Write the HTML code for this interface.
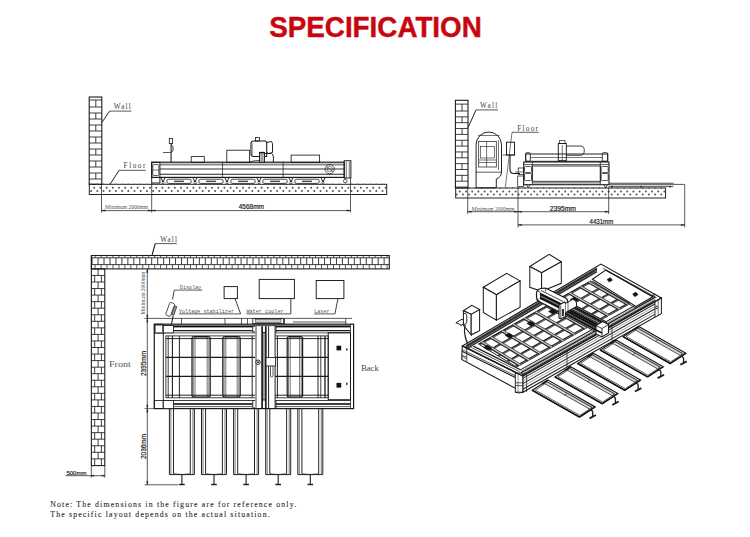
<!DOCTYPE html>
<html><head><meta charset="utf-8"><style>
html,body{margin:0;padding:0;background:#fff;width:750px;height:537px;overflow:hidden}
svg{display:block}
</style></head><body>
<svg width="750" height="537" viewBox="0 0 750 537" font-family="Liberation Serif" stroke-linecap="butt">
<rect width="750" height="537" fill="#fff"/>
<text x="269.20" y="37.40" font-family="Liberation Sans" font-size="30.3" font-weight="bold" fill="#c8060f" textLength="212.60" lengthAdjust="spacingAndGlyphs" stroke="#c8060f" stroke-width="0.45">SPECIFICATION</text>
<rect x="89.20" y="97.00" width="12.60" height="87.30" stroke="#1a1a1a" stroke-width="1.08" fill="none" rx="0" />
<line x1="89.20" y1="100.00" x2="101.80" y2="100.00" stroke="#1a1a1a" stroke-width="0.84" />
<line x1="89.20" y1="107.00" x2="101.80" y2="107.00" stroke="#1a1a1a" stroke-width="0.84" />
<line x1="95.80" y1="100.00" x2="95.80" y2="107.00" stroke="#1a1a1a" stroke-width="0.84" />
<line x1="89.20" y1="113.00" x2="101.80" y2="113.00" stroke="#1a1a1a" stroke-width="0.84" />
<line x1="89.20" y1="119.00" x2="101.80" y2="119.00" stroke="#1a1a1a" stroke-width="0.84" />
<line x1="95.80" y1="113.00" x2="95.80" y2="119.00" stroke="#1a1a1a" stroke-width="0.84" />
<line x1="89.20" y1="125.00" x2="101.80" y2="125.00" stroke="#1a1a1a" stroke-width="0.84" />
<line x1="89.20" y1="131.00" x2="101.80" y2="131.00" stroke="#1a1a1a" stroke-width="0.84" />
<line x1="95.80" y1="125.00" x2="95.80" y2="131.00" stroke="#1a1a1a" stroke-width="0.84" />
<line x1="89.20" y1="137.00" x2="101.80" y2="137.00" stroke="#1a1a1a" stroke-width="0.84" />
<line x1="89.20" y1="143.00" x2="101.80" y2="143.00" stroke="#1a1a1a" stroke-width="0.84" />
<line x1="95.80" y1="137.00" x2="95.80" y2="143.00" stroke="#1a1a1a" stroke-width="0.84" />
<line x1="89.20" y1="149.00" x2="101.80" y2="149.00" stroke="#1a1a1a" stroke-width="0.84" />
<line x1="89.20" y1="155.00" x2="101.80" y2="155.00" stroke="#1a1a1a" stroke-width="0.84" />
<line x1="95.80" y1="149.00" x2="95.80" y2="155.00" stroke="#1a1a1a" stroke-width="0.84" />
<line x1="89.20" y1="161.00" x2="101.80" y2="161.00" stroke="#1a1a1a" stroke-width="0.84" />
<line x1="89.20" y1="167.00" x2="101.80" y2="167.00" stroke="#1a1a1a" stroke-width="0.84" />
<line x1="95.80" y1="161.00" x2="95.80" y2="167.00" stroke="#1a1a1a" stroke-width="0.84" />
<line x1="89.20" y1="173.00" x2="101.80" y2="173.00" stroke="#1a1a1a" stroke-width="0.84" />
<line x1="89.20" y1="179.00" x2="101.80" y2="179.00" stroke="#1a1a1a" stroke-width="0.84" />
<line x1="95.80" y1="173.00" x2="95.80" y2="179.00" stroke="#1a1a1a" stroke-width="0.84" />
<rect x="89.30" y="184.30" width="297.40" height="10.20" stroke="#1a1a1a" stroke-width="0.96" fill="none" rx="0" />
<circle cx="94.20" cy="187.80" r="1.0" fill="#555"/>
<circle cx="100.40" cy="187.80" r="1.0" fill="#555"/>
<circle cx="106.60" cy="187.80" r="1.0" fill="#555"/>
<circle cx="112.80" cy="187.80" r="1.0" fill="#555"/>
<circle cx="119.00" cy="187.80" r="1.0" fill="#555"/>
<circle cx="125.20" cy="187.80" r="1.0" fill="#555"/>
<circle cx="131.40" cy="187.80" r="1.0" fill="#555"/>
<circle cx="137.60" cy="187.80" r="1.0" fill="#555"/>
<circle cx="143.80" cy="187.80" r="1.0" fill="#555"/>
<circle cx="150.00" cy="187.80" r="1.0" fill="#555"/>
<circle cx="156.20" cy="187.80" r="1.0" fill="#555"/>
<circle cx="162.40" cy="187.80" r="1.0" fill="#555"/>
<circle cx="168.60" cy="187.80" r="1.0" fill="#555"/>
<circle cx="174.80" cy="187.80" r="1.0" fill="#555"/>
<circle cx="181.00" cy="187.80" r="1.0" fill="#555"/>
<circle cx="187.20" cy="187.80" r="1.0" fill="#555"/>
<circle cx="193.40" cy="187.80" r="1.0" fill="#555"/>
<circle cx="199.60" cy="187.80" r="1.0" fill="#555"/>
<circle cx="205.80" cy="187.80" r="1.0" fill="#555"/>
<circle cx="212.00" cy="187.80" r="1.0" fill="#555"/>
<circle cx="218.20" cy="187.80" r="1.0" fill="#555"/>
<circle cx="224.40" cy="187.80" r="1.0" fill="#555"/>
<circle cx="230.60" cy="187.80" r="1.0" fill="#555"/>
<circle cx="236.80" cy="187.80" r="1.0" fill="#555"/>
<circle cx="243.00" cy="187.80" r="1.0" fill="#555"/>
<circle cx="249.20" cy="187.80" r="1.0" fill="#555"/>
<circle cx="255.40" cy="187.80" r="1.0" fill="#555"/>
<circle cx="261.60" cy="187.80" r="1.0" fill="#555"/>
<circle cx="267.80" cy="187.80" r="1.0" fill="#555"/>
<circle cx="274.00" cy="187.80" r="1.0" fill="#555"/>
<circle cx="280.20" cy="187.80" r="1.0" fill="#555"/>
<circle cx="286.40" cy="187.80" r="1.0" fill="#555"/>
<circle cx="292.60" cy="187.80" r="1.0" fill="#555"/>
<circle cx="298.80" cy="187.80" r="1.0" fill="#555"/>
<circle cx="305.00" cy="187.80" r="1.0" fill="#555"/>
<circle cx="311.20" cy="187.80" r="1.0" fill="#555"/>
<circle cx="317.40" cy="187.80" r="1.0" fill="#555"/>
<circle cx="323.60" cy="187.80" r="1.0" fill="#555"/>
<circle cx="329.80" cy="187.80" r="1.0" fill="#555"/>
<circle cx="336.00" cy="187.80" r="1.0" fill="#555"/>
<circle cx="342.20" cy="187.80" r="1.0" fill="#555"/>
<circle cx="348.40" cy="187.80" r="1.0" fill="#555"/>
<circle cx="354.60" cy="187.80" r="1.0" fill="#555"/>
<circle cx="360.80" cy="187.80" r="1.0" fill="#555"/>
<circle cx="367.00" cy="187.80" r="1.0" fill="#555"/>
<circle cx="373.20" cy="187.80" r="1.0" fill="#555"/>
<circle cx="379.40" cy="187.80" r="1.0" fill="#555"/>
<circle cx="385.60" cy="187.80" r="1.0" fill="#555"/>
<circle cx="91.10" cy="190.90" r="1.0" fill="#555"/>
<circle cx="97.30" cy="190.90" r="1.0" fill="#555"/>
<circle cx="103.50" cy="190.90" r="1.0" fill="#555"/>
<circle cx="109.70" cy="190.90" r="1.0" fill="#555"/>
<circle cx="115.90" cy="190.90" r="1.0" fill="#555"/>
<circle cx="122.10" cy="190.90" r="1.0" fill="#555"/>
<circle cx="128.30" cy="190.90" r="1.0" fill="#555"/>
<circle cx="134.50" cy="190.90" r="1.0" fill="#555"/>
<circle cx="140.70" cy="190.90" r="1.0" fill="#555"/>
<circle cx="146.90" cy="190.90" r="1.0" fill="#555"/>
<circle cx="153.10" cy="190.90" r="1.0" fill="#555"/>
<circle cx="159.30" cy="190.90" r="1.0" fill="#555"/>
<circle cx="165.50" cy="190.90" r="1.0" fill="#555"/>
<circle cx="171.70" cy="190.90" r="1.0" fill="#555"/>
<circle cx="177.90" cy="190.90" r="1.0" fill="#555"/>
<circle cx="184.10" cy="190.90" r="1.0" fill="#555"/>
<circle cx="190.30" cy="190.90" r="1.0" fill="#555"/>
<circle cx="196.50" cy="190.90" r="1.0" fill="#555"/>
<circle cx="202.70" cy="190.90" r="1.0" fill="#555"/>
<circle cx="208.90" cy="190.90" r="1.0" fill="#555"/>
<circle cx="215.10" cy="190.90" r="1.0" fill="#555"/>
<circle cx="221.30" cy="190.90" r="1.0" fill="#555"/>
<circle cx="227.50" cy="190.90" r="1.0" fill="#555"/>
<circle cx="233.70" cy="190.90" r="1.0" fill="#555"/>
<circle cx="239.90" cy="190.90" r="1.0" fill="#555"/>
<circle cx="246.10" cy="190.90" r="1.0" fill="#555"/>
<circle cx="252.30" cy="190.90" r="1.0" fill="#555"/>
<circle cx="258.50" cy="190.90" r="1.0" fill="#555"/>
<circle cx="264.70" cy="190.90" r="1.0" fill="#555"/>
<circle cx="270.90" cy="190.90" r="1.0" fill="#555"/>
<circle cx="277.10" cy="190.90" r="1.0" fill="#555"/>
<circle cx="283.30" cy="190.90" r="1.0" fill="#555"/>
<circle cx="289.50" cy="190.90" r="1.0" fill="#555"/>
<circle cx="295.70" cy="190.90" r="1.0" fill="#555"/>
<circle cx="301.90" cy="190.90" r="1.0" fill="#555"/>
<circle cx="308.10" cy="190.90" r="1.0" fill="#555"/>
<circle cx="314.30" cy="190.90" r="1.0" fill="#555"/>
<circle cx="320.50" cy="190.90" r="1.0" fill="#555"/>
<circle cx="326.70" cy="190.90" r="1.0" fill="#555"/>
<circle cx="332.90" cy="190.90" r="1.0" fill="#555"/>
<circle cx="339.10" cy="190.90" r="1.0" fill="#555"/>
<circle cx="345.30" cy="190.90" r="1.0" fill="#555"/>
<circle cx="351.50" cy="190.90" r="1.0" fill="#555"/>
<circle cx="357.70" cy="190.90" r="1.0" fill="#555"/>
<circle cx="363.90" cy="190.90" r="1.0" fill="#555"/>
<circle cx="370.10" cy="190.90" r="1.0" fill="#555"/>
<circle cx="376.30" cy="190.90" r="1.0" fill="#555"/>
<circle cx="382.50" cy="190.90" r="1.0" fill="#555"/>
<circle cx="91.10" cy="184.30" r="0.75" fill="#555"/>
<circle cx="97.30" cy="184.30" r="0.75" fill="#555"/>
<circle cx="103.50" cy="184.30" r="0.75" fill="#555"/>
<circle cx="109.70" cy="184.30" r="0.75" fill="#555"/>
<circle cx="115.90" cy="184.30" r="0.75" fill="#555"/>
<circle cx="122.10" cy="184.30" r="0.75" fill="#555"/>
<circle cx="128.30" cy="184.30" r="0.75" fill="#555"/>
<circle cx="134.50" cy="184.30" r="0.75" fill="#555"/>
<circle cx="140.70" cy="184.30" r="0.75" fill="#555"/>
<circle cx="146.90" cy="184.30" r="0.75" fill="#555"/>
<circle cx="153.10" cy="184.30" r="0.75" fill="#555"/>
<circle cx="159.30" cy="184.30" r="0.75" fill="#555"/>
<circle cx="165.50" cy="184.30" r="0.75" fill="#555"/>
<circle cx="171.70" cy="184.30" r="0.75" fill="#555"/>
<circle cx="177.90" cy="184.30" r="0.75" fill="#555"/>
<circle cx="184.10" cy="184.30" r="0.75" fill="#555"/>
<circle cx="190.30" cy="184.30" r="0.75" fill="#555"/>
<circle cx="196.50" cy="184.30" r="0.75" fill="#555"/>
<circle cx="202.70" cy="184.30" r="0.75" fill="#555"/>
<circle cx="208.90" cy="184.30" r="0.75" fill="#555"/>
<circle cx="215.10" cy="184.30" r="0.75" fill="#555"/>
<circle cx="221.30" cy="184.30" r="0.75" fill="#555"/>
<circle cx="227.50" cy="184.30" r="0.75" fill="#555"/>
<circle cx="233.70" cy="184.30" r="0.75" fill="#555"/>
<circle cx="239.90" cy="184.30" r="0.75" fill="#555"/>
<circle cx="246.10" cy="184.30" r="0.75" fill="#555"/>
<circle cx="252.30" cy="184.30" r="0.75" fill="#555"/>
<circle cx="258.50" cy="184.30" r="0.75" fill="#555"/>
<circle cx="264.70" cy="184.30" r="0.75" fill="#555"/>
<circle cx="270.90" cy="184.30" r="0.75" fill="#555"/>
<circle cx="277.10" cy="184.30" r="0.75" fill="#555"/>
<circle cx="283.30" cy="184.30" r="0.75" fill="#555"/>
<circle cx="289.50" cy="184.30" r="0.75" fill="#555"/>
<circle cx="295.70" cy="184.30" r="0.75" fill="#555"/>
<circle cx="301.90" cy="184.30" r="0.75" fill="#555"/>
<circle cx="308.10" cy="184.30" r="0.75" fill="#555"/>
<circle cx="314.30" cy="184.30" r="0.75" fill="#555"/>
<circle cx="320.50" cy="184.30" r="0.75" fill="#555"/>
<circle cx="326.70" cy="184.30" r="0.75" fill="#555"/>
<circle cx="332.90" cy="184.30" r="0.75" fill="#555"/>
<circle cx="339.10" cy="184.30" r="0.75" fill="#555"/>
<circle cx="345.30" cy="184.30" r="0.75" fill="#555"/>
<circle cx="351.50" cy="184.30" r="0.75" fill="#555"/>
<circle cx="357.70" cy="184.30" r="0.75" fill="#555"/>
<circle cx="363.90" cy="184.30" r="0.75" fill="#555"/>
<circle cx="370.10" cy="184.30" r="0.75" fill="#555"/>
<circle cx="376.30" cy="184.30" r="0.75" fill="#555"/>
<circle cx="382.50" cy="184.30" r="0.75" fill="#555"/>
<text x="113.80" y="109.00" font-family="Liberation Serif" font-size="7.2" font-weight="normal" fill="#444" textLength="17.00" lengthAdjust="spacing" >Wall</text>
<line x1="109.60" y1="111.10" x2="131.40" y2="111.10" stroke="#1a1a1a" stroke-width="0.72" />
<line x1="109.60" y1="111.10" x2="101.80" y2="122.60" stroke="#1a1a1a" stroke-width="0.96" />
<text x="123.60" y="168.30" font-family="Liberation Serif" font-size="7.2" font-weight="normal" fill="#444" textLength="21.70" lengthAdjust="spacing" >Floor</text>
<line x1="119.10" y1="170.30" x2="145.80" y2="170.30" stroke="#1a1a1a" stroke-width="0.72" />
<line x1="119.10" y1="170.30" x2="110.00" y2="184.30" stroke="#1a1a1a" stroke-width="0.96" />
<rect x="151.70" y="162.20" width="192.50" height="15.20" stroke="#1a1a1a" stroke-width="1.20" fill="none" rx="0" />
<line x1="159.90" y1="164.20" x2="344.20" y2="164.20" stroke="#333" stroke-width="0.84" />
<line x1="159.90" y1="165.40" x2="344.20" y2="165.40" stroke="#777" stroke-width="0.48" />
<line x1="159.90" y1="169.00" x2="344.20" y2="169.00" stroke="#333" stroke-width="1.08" />
<line x1="159.90" y1="174.30" x2="344.20" y2="174.30" stroke="#222" stroke-width="1.08" />
<line x1="222.50" y1="162.20" x2="222.50" y2="177.40" stroke="#1a1a1a" stroke-width="0.72" />
<line x1="283.10" y1="162.20" x2="283.10" y2="177.40" stroke="#1a1a1a" stroke-width="0.72" />
<rect x="151.70" y="162.40" width="8.20" height="20.60" stroke="#1a1a1a" stroke-width="0.96" fill="none" rx="0" />
<rect x="152.80" y="164.60" width="6.00" height="10.90" stroke="#1a1a1a" stroke-width="0.72" fill="none" rx="1" />
<line x1="152.80" y1="170.00" x2="158.80" y2="170.00" stroke="#1a1a1a" stroke-width="0.60" />
<rect x="344.20" y="160.70" width="6.70" height="17.30" stroke="#1a1a1a" stroke-width="0.96" fill="none" rx="0" />
<line x1="346.30" y1="161.50" x2="346.30" y2="178.00" stroke="#1a1a1a" stroke-width="0.60" />
<line x1="349.30" y1="161.50" x2="349.30" y2="178.00" stroke="#1a1a1a" stroke-width="0.60" />
<circle cx="329.7" cy="169.1" r="4.6" stroke="#1a1a1a" stroke-width="0.7" fill="none"/>
<circle cx="329.7" cy="169.1" r="2.6" stroke="#1a1a1a" stroke-width="0.5" fill="none"/>
<line x1="326.50" y1="166.50" x2="332.80" y2="171.80" stroke="#1a1a1a" stroke-width="0.60" />
<path d="M160.80,177.4 L163.00,182.0 L165.20,177.4" stroke="#1a1a1a" stroke-width="0.96" fill="none" />
<circle cx="163" cy="182.6" r="1.2" stroke="#1a1a1a" stroke-width="0.6" fill="none"/>
<rect x="166.7" y="179.2" width="24.6" height="4.2" rx="2.1" stroke="#1a1a1a" stroke-width="0.8" fill="none"/>
<line x1="174.00" y1="181.30" x2="184.00" y2="181.30" stroke="#333" stroke-width="1.20" />
<path d="M192.80,177.4 L195.00,182.0 L197.20,177.4" stroke="#1a1a1a" stroke-width="0.96" fill="none" />
<circle cx="195" cy="182.6" r="1.2" stroke="#1a1a1a" stroke-width="0.6" fill="none"/>
<rect x="198.7" y="179.2" width="24.6" height="4.2" rx="2.1" stroke="#1a1a1a" stroke-width="0.8" fill="none"/>
<line x1="206.00" y1="181.30" x2="216.00" y2="181.30" stroke="#333" stroke-width="1.20" />
<path d="M224.80,177.4 L227.00,182.0 L229.20,177.4" stroke="#1a1a1a" stroke-width="0.96" fill="none" />
<circle cx="227" cy="182.6" r="1.2" stroke="#1a1a1a" stroke-width="0.6" fill="none"/>
<rect x="230.7" y="179.2" width="24.6" height="4.2" rx="2.1" stroke="#1a1a1a" stroke-width="0.8" fill="none"/>
<line x1="238.00" y1="181.30" x2="248.00" y2="181.30" stroke="#333" stroke-width="1.20" />
<path d="M256.80,177.4 L259.00,182.0 L261.20,177.4" stroke="#1a1a1a" stroke-width="0.96" fill="none" />
<circle cx="259" cy="182.6" r="1.2" stroke="#1a1a1a" stroke-width="0.6" fill="none"/>
<rect x="262.7" y="179.2" width="24.6" height="4.2" rx="2.1" stroke="#1a1a1a" stroke-width="0.8" fill="none"/>
<line x1="270.00" y1="181.30" x2="280.00" y2="181.30" stroke="#333" stroke-width="1.20" />
<path d="M288.80,177.4 L291.00,182.0 L293.20,177.4" stroke="#1a1a1a" stroke-width="0.96" fill="none" />
<circle cx="291" cy="182.6" r="1.2" stroke="#1a1a1a" stroke-width="0.6" fill="none"/>
<rect x="294.7" y="179.2" width="24.6" height="4.2" rx="2.1" stroke="#1a1a1a" stroke-width="0.8" fill="none"/>
<line x1="302.00" y1="181.30" x2="312.00" y2="181.30" stroke="#333" stroke-width="1.20" />
<path d="M320.80,177.4 L323.00,182.0 L325.20,177.4" stroke="#1a1a1a" stroke-width="0.96" fill="none" />
<circle cx="323" cy="182.6" r="1.2" stroke="#1a1a1a" stroke-width="0.6" fill="none"/>
<circle cx="345.3" cy="181.0" r="1.8" stroke="#1a1a1a" stroke-width="0.7" fill="none"/>
<line x1="345.30" y1="178.00" x2="345.30" y2="179.20" stroke="#1a1a1a" stroke-width="0.84" />
<rect x="191.20" y="156.60" width="13.10" height="5.80" stroke="#1a1a1a" stroke-width="0.84" fill="none" rx="0" />
<rect x="226.80" y="150.20" width="22.80" height="12.20" stroke="#1a1a1a" stroke-width="0.84" fill="none" rx="0" />
<rect x="291.10" y="155.10" width="28.50" height="7.30" stroke="#1a1a1a" stroke-width="0.84" fill="none" rx="0" />
<line x1="171.10" y1="143.50" x2="171.10" y2="162.40" stroke="#1a1a1a" stroke-width="1.08" />
<rect x="169.30" y="138.60" width="3.30" height="4.90" stroke="#1a1a1a" stroke-width="0.84" fill="none" rx="0" />
<path d="M171.3,144.5 Q173.5,146 173.2,150 Q172.5,152 171.2,152" stroke="#1a1a1a" stroke-width="0.84" fill="none" />
<line x1="162.90" y1="152.50" x2="171.10" y2="152.50" stroke="#1a1a1a" stroke-width="0.72" />
<path d="M251,143.5 Q251,141 253.5,141 L265.5,141 L266.7,142.5 L266.7,156.5 L253.5,156.5 Q251,156.5 251,154 Z" stroke="#1a1a1a" stroke-width="1.08" fill="#fff" />
<line x1="252.30" y1="143.00" x2="252.30" y2="155.00" stroke="#666" stroke-width="0.72" />
<rect x="255.50" y="137.60" width="4.00" height="3.40" stroke="#1a1a1a" stroke-width="0.84" fill="none" rx="0" />
<path d="M266.7,142.5 L271.5,141.5 L272.5,143.5 L272.5,152.5 L268.5,153.5 L266.7,152.5" stroke="#1a1a1a" stroke-width="0.96" fill="none" />
<rect x="259.60" y="152.50" width="4.80" height="9.70" stroke="#1a1a1a" stroke-width="1.08" fill="#fff" rx="0" />
<line x1="261.20" y1="153.50" x2="261.20" y2="161.50" stroke="#1a1a1a" stroke-width="0.60" />
<line x1="262.80" y1="153.50" x2="262.80" y2="161.50" stroke="#1a1a1a" stroke-width="0.60" />
<line x1="259.60" y1="152.60" x2="264.40" y2="152.60" stroke="#111" stroke-width="1.44" />
<path d="M264.4,153.5 L271.5,153.5 Q273.4,154.5 273.4,157 L273.4,162.2" stroke="#1a1a1a" stroke-width="0.96" fill="none" />
<path d="M249,162.2 Q253,160.4 259.6,160.4" stroke="#1a1a1a" stroke-width="0.72" fill="none" />
<line x1="101.50" y1="184.30" x2="101.50" y2="212.50" stroke="#1a1a1a" stroke-width="0.72" />
<line x1="151.70" y1="183.00" x2="151.70" y2="212.50" stroke="#1a1a1a" stroke-width="0.72" />
<line x1="350.50" y1="178.00" x2="350.50" y2="212.50" stroke="#1a1a1a" stroke-width="0.72" />
<line x1="101.50" y1="210.60" x2="151.70" y2="210.60" stroke="#1a1a1a" stroke-width="0.72" />
<path d="M105.10,209.85 L101.50,210.60 L105.10,211.35 Z" stroke="#1a1a1a" stroke-width="0.24" fill="#1a1a1a" />
<path d="M148.10,209.85 L151.70,210.60 L148.10,211.35 Z" stroke="#1a1a1a" stroke-width="0.24" fill="#1a1a1a" />
<line x1="151.70" y1="210.60" x2="350.50" y2="210.60" stroke="#1a1a1a" stroke-width="0.72" />
<path d="M155.30,209.85 L151.70,210.60 L155.30,211.35 Z" stroke="#1a1a1a" stroke-width="0.24" fill="#1a1a1a" />
<path d="M346.90,209.85 L350.50,210.60 L346.90,211.35 Z" stroke="#1a1a1a" stroke-width="0.24" fill="#1a1a1a" />
<text x="105.00" y="208.60" font-family="Liberation Serif" font-size="5.4" font-weight="normal" fill="#555" textLength="43.00" lengthAdjust="spacingAndGlyphs" >Minimum 2000mm</text>
<text x="238.70" y="209.00" font-family="Liberation Sans" font-size="6.4" font-weight="normal" fill="#222" textLength="25.30" lengthAdjust="spacingAndGlyphs" stroke="#222" stroke-width="0.18">4568mm</text>
<rect x="455.40" y="100.30" width="12.60" height="87.70" stroke="#1a1a1a" stroke-width="1.08" fill="none" rx="0" />
<line x1="455.40" y1="104.10" x2="468.00" y2="104.10" stroke="#1a1a1a" stroke-width="0.84" />
<line x1="455.40" y1="111.00" x2="468.00" y2="111.00" stroke="#1a1a1a" stroke-width="0.84" />
<line x1="462.00" y1="104.10" x2="462.00" y2="111.00" stroke="#1a1a1a" stroke-width="0.84" />
<line x1="455.40" y1="116.85" x2="468.00" y2="116.85" stroke="#1a1a1a" stroke-width="0.84" />
<line x1="455.40" y1="122.70" x2="468.00" y2="122.70" stroke="#1a1a1a" stroke-width="0.84" />
<line x1="462.00" y1="116.85" x2="462.00" y2="122.70" stroke="#1a1a1a" stroke-width="0.84" />
<line x1="455.40" y1="128.55" x2="468.00" y2="128.55" stroke="#1a1a1a" stroke-width="0.84" />
<line x1="455.40" y1="134.40" x2="468.00" y2="134.40" stroke="#1a1a1a" stroke-width="0.84" />
<line x1="462.00" y1="128.55" x2="462.00" y2="134.40" stroke="#1a1a1a" stroke-width="0.84" />
<line x1="455.40" y1="140.25" x2="468.00" y2="140.25" stroke="#1a1a1a" stroke-width="0.84" />
<line x1="455.40" y1="146.10" x2="468.00" y2="146.10" stroke="#1a1a1a" stroke-width="0.84" />
<line x1="462.00" y1="140.25" x2="462.00" y2="146.10" stroke="#1a1a1a" stroke-width="0.84" />
<line x1="455.40" y1="151.95" x2="468.00" y2="151.95" stroke="#1a1a1a" stroke-width="0.84" />
<line x1="455.40" y1="157.80" x2="468.00" y2="157.80" stroke="#1a1a1a" stroke-width="0.84" />
<line x1="462.00" y1="151.95" x2="462.00" y2="157.80" stroke="#1a1a1a" stroke-width="0.84" />
<line x1="455.40" y1="163.65" x2="468.00" y2="163.65" stroke="#1a1a1a" stroke-width="0.84" />
<line x1="455.40" y1="169.50" x2="468.00" y2="169.50" stroke="#1a1a1a" stroke-width="0.84" />
<line x1="462.00" y1="163.65" x2="462.00" y2="169.50" stroke="#1a1a1a" stroke-width="0.84" />
<line x1="455.40" y1="175.35" x2="468.00" y2="175.35" stroke="#1a1a1a" stroke-width="0.84" />
<line x1="455.40" y1="181.20" x2="468.00" y2="181.20" stroke="#1a1a1a" stroke-width="0.84" />
<line x1="462.00" y1="175.35" x2="462.00" y2="181.20" stroke="#1a1a1a" stroke-width="0.84" />
<line x1="455.40" y1="187.05" x2="468.00" y2="187.05" stroke="#1a1a1a" stroke-width="0.84" />
<line x1="462.00" y1="187.05" x2="462.00" y2="188.00" stroke="#1a1a1a" stroke-width="0.84" />
<rect x="455.70" y="188.00" width="209.90" height="10.00" stroke="#1a1a1a" stroke-width="0.96" fill="none" rx="0" />
<circle cx="459.80" cy="191.50" r="1.0" fill="#555"/>
<circle cx="466.00" cy="191.50" r="1.0" fill="#555"/>
<circle cx="472.20" cy="191.50" r="1.0" fill="#555"/>
<circle cx="478.40" cy="191.50" r="1.0" fill="#555"/>
<circle cx="484.60" cy="191.50" r="1.0" fill="#555"/>
<circle cx="490.80" cy="191.50" r="1.0" fill="#555"/>
<circle cx="497.00" cy="191.50" r="1.0" fill="#555"/>
<circle cx="503.20" cy="191.50" r="1.0" fill="#555"/>
<circle cx="509.40" cy="191.50" r="1.0" fill="#555"/>
<circle cx="515.60" cy="191.50" r="1.0" fill="#555"/>
<circle cx="521.80" cy="191.50" r="1.0" fill="#555"/>
<circle cx="528.00" cy="191.50" r="1.0" fill="#555"/>
<circle cx="534.20" cy="191.50" r="1.0" fill="#555"/>
<circle cx="540.40" cy="191.50" r="1.0" fill="#555"/>
<circle cx="546.60" cy="191.50" r="1.0" fill="#555"/>
<circle cx="552.80" cy="191.50" r="1.0" fill="#555"/>
<circle cx="559.00" cy="191.50" r="1.0" fill="#555"/>
<circle cx="565.20" cy="191.50" r="1.0" fill="#555"/>
<circle cx="571.40" cy="191.50" r="1.0" fill="#555"/>
<circle cx="577.60" cy="191.50" r="1.0" fill="#555"/>
<circle cx="583.80" cy="191.50" r="1.0" fill="#555"/>
<circle cx="590.00" cy="191.50" r="1.0" fill="#555"/>
<circle cx="596.20" cy="191.50" r="1.0" fill="#555"/>
<circle cx="602.40" cy="191.50" r="1.0" fill="#555"/>
<circle cx="608.60" cy="191.50" r="1.0" fill="#555"/>
<circle cx="614.80" cy="191.50" r="1.0" fill="#555"/>
<circle cx="621.00" cy="191.50" r="1.0" fill="#555"/>
<circle cx="627.20" cy="191.50" r="1.0" fill="#555"/>
<circle cx="633.40" cy="191.50" r="1.0" fill="#555"/>
<circle cx="639.60" cy="191.50" r="1.0" fill="#555"/>
<circle cx="645.80" cy="191.50" r="1.0" fill="#555"/>
<circle cx="652.00" cy="191.50" r="1.0" fill="#555"/>
<circle cx="658.20" cy="191.50" r="1.0" fill="#555"/>
<circle cx="664.40" cy="191.50" r="1.0" fill="#555"/>
<circle cx="456.70" cy="194.60" r="1.0" fill="#555"/>
<circle cx="462.90" cy="194.60" r="1.0" fill="#555"/>
<circle cx="469.10" cy="194.60" r="1.0" fill="#555"/>
<circle cx="475.30" cy="194.60" r="1.0" fill="#555"/>
<circle cx="481.50" cy="194.60" r="1.0" fill="#555"/>
<circle cx="487.70" cy="194.60" r="1.0" fill="#555"/>
<circle cx="493.90" cy="194.60" r="1.0" fill="#555"/>
<circle cx="500.10" cy="194.60" r="1.0" fill="#555"/>
<circle cx="506.30" cy="194.60" r="1.0" fill="#555"/>
<circle cx="512.50" cy="194.60" r="1.0" fill="#555"/>
<circle cx="518.70" cy="194.60" r="1.0" fill="#555"/>
<circle cx="524.90" cy="194.60" r="1.0" fill="#555"/>
<circle cx="531.10" cy="194.60" r="1.0" fill="#555"/>
<circle cx="537.30" cy="194.60" r="1.0" fill="#555"/>
<circle cx="543.50" cy="194.60" r="1.0" fill="#555"/>
<circle cx="549.70" cy="194.60" r="1.0" fill="#555"/>
<circle cx="555.90" cy="194.60" r="1.0" fill="#555"/>
<circle cx="562.10" cy="194.60" r="1.0" fill="#555"/>
<circle cx="568.30" cy="194.60" r="1.0" fill="#555"/>
<circle cx="574.50" cy="194.60" r="1.0" fill="#555"/>
<circle cx="580.70" cy="194.60" r="1.0" fill="#555"/>
<circle cx="586.90" cy="194.60" r="1.0" fill="#555"/>
<circle cx="593.10" cy="194.60" r="1.0" fill="#555"/>
<circle cx="599.30" cy="194.60" r="1.0" fill="#555"/>
<circle cx="605.50" cy="194.60" r="1.0" fill="#555"/>
<circle cx="611.70" cy="194.60" r="1.0" fill="#555"/>
<circle cx="617.90" cy="194.60" r="1.0" fill="#555"/>
<circle cx="624.10" cy="194.60" r="1.0" fill="#555"/>
<circle cx="630.30" cy="194.60" r="1.0" fill="#555"/>
<circle cx="636.50" cy="194.60" r="1.0" fill="#555"/>
<circle cx="642.70" cy="194.60" r="1.0" fill="#555"/>
<circle cx="648.90" cy="194.60" r="1.0" fill="#555"/>
<circle cx="655.10" cy="194.60" r="1.0" fill="#555"/>
<circle cx="661.30" cy="194.60" r="1.0" fill="#555"/>
<circle cx="456.70" cy="188.00" r="0.75" fill="#555"/>
<circle cx="462.90" cy="188.00" r="0.75" fill="#555"/>
<circle cx="469.10" cy="188.00" r="0.75" fill="#555"/>
<circle cx="475.30" cy="188.00" r="0.75" fill="#555"/>
<circle cx="481.50" cy="188.00" r="0.75" fill="#555"/>
<circle cx="487.70" cy="188.00" r="0.75" fill="#555"/>
<circle cx="493.90" cy="188.00" r="0.75" fill="#555"/>
<circle cx="500.10" cy="188.00" r="0.75" fill="#555"/>
<circle cx="506.30" cy="188.00" r="0.75" fill="#555"/>
<circle cx="512.50" cy="188.00" r="0.75" fill="#555"/>
<circle cx="518.70" cy="188.00" r="0.75" fill="#555"/>
<circle cx="524.90" cy="188.00" r="0.75" fill="#555"/>
<circle cx="531.10" cy="188.00" r="0.75" fill="#555"/>
<circle cx="537.30" cy="188.00" r="0.75" fill="#555"/>
<circle cx="543.50" cy="188.00" r="0.75" fill="#555"/>
<circle cx="549.70" cy="188.00" r="0.75" fill="#555"/>
<circle cx="555.90" cy="188.00" r="0.75" fill="#555"/>
<circle cx="562.10" cy="188.00" r="0.75" fill="#555"/>
<circle cx="568.30" cy="188.00" r="0.75" fill="#555"/>
<circle cx="574.50" cy="188.00" r="0.75" fill="#555"/>
<circle cx="580.70" cy="188.00" r="0.75" fill="#555"/>
<circle cx="586.90" cy="188.00" r="0.75" fill="#555"/>
<circle cx="593.10" cy="188.00" r="0.75" fill="#555"/>
<circle cx="599.30" cy="188.00" r="0.75" fill="#555"/>
<circle cx="605.50" cy="188.00" r="0.75" fill="#555"/>
<circle cx="611.70" cy="188.00" r="0.75" fill="#555"/>
<circle cx="617.90" cy="188.00" r="0.75" fill="#555"/>
<circle cx="624.10" cy="188.00" r="0.75" fill="#555"/>
<circle cx="630.30" cy="188.00" r="0.75" fill="#555"/>
<circle cx="636.50" cy="188.00" r="0.75" fill="#555"/>
<circle cx="642.70" cy="188.00" r="0.75" fill="#555"/>
<circle cx="648.90" cy="188.00" r="0.75" fill="#555"/>
<circle cx="655.10" cy="188.00" r="0.75" fill="#555"/>
<circle cx="661.30" cy="188.00" r="0.75" fill="#555"/>
<text x="480.00" y="108.30" font-family="Liberation Serif" font-size="7.2" font-weight="normal" fill="#444" textLength="17.30" lengthAdjust="spacing" >Wall</text>
<line x1="476.00" y1="109.90" x2="498.00" y2="109.90" stroke="#1a1a1a" stroke-width="0.72" />
<line x1="476.00" y1="109.90" x2="468.00" y2="127.70" stroke="#1a1a1a" stroke-width="0.96" />
<text x="517.30" y="130.70" font-family="Liberation Serif" font-size="7.2" font-weight="normal" fill="#444" textLength="20.70" lengthAdjust="spacing" >Floor</text>
<line x1="512.00" y1="132.30" x2="538.70" y2="132.30" stroke="#1a1a1a" stroke-width="0.72" />
<line x1="512.00" y1="132.30" x2="505.40" y2="187.00" stroke="#1a1a1a" stroke-width="0.60" />
<path d="M476.1,187.8 L476.1,144.7 A12.7,12.7 0 0 1 501.5,144.7 L501.5,172 Q501.5,177 496.3,179 L496.3,187.8 Z" stroke="#1a1a1a" stroke-width="0.96" fill="none" />
<line x1="476.10" y1="172.20" x2="501.50" y2="172.20" stroke="#1a1a1a" stroke-width="0.72" />
<rect x="478.70" y="141.50" width="17.60" height="25.50" stroke="#1a1a1a" stroke-width="0.72" fill="none" rx="0" />
<rect x="480.50" y="146.50" width="14.00" height="11.50" stroke="#1a1a1a" stroke-width="0.60" fill="none" rx="0" />
<line x1="486.60" y1="141.50" x2="486.60" y2="167.00" stroke="#1a1a1a" stroke-width="0.60" />
<line x1="478.70" y1="160.00" x2="496.30" y2="160.00" stroke="#1a1a1a" stroke-width="0.60" />
<line x1="478.70" y1="162.50" x2="496.30" y2="162.50" stroke="#1a1a1a" stroke-width="0.60" />
<line x1="498.50" y1="140.00" x2="498.50" y2="170.00" stroke="#1a1a1a" stroke-width="0.60" />
<path d="M478,135.5 L499.5,135.5" stroke="#1a1a1a" stroke-width="0.60" fill="none" />
<rect x="506.50" y="142.20" width="8.00" height="12.80" stroke="#1a1a1a" stroke-width="0.96" fill="none" rx="0" />
<line x1="502.80" y1="155.00" x2="515.20" y2="155.00" stroke="#1a1a1a" stroke-width="0.72" />
<path d="M510,155 L510,169.5 Q510,173.5 514,173.5 L520,173.5" stroke="#1a1a1a" stroke-width="1.08" fill="none" />
<rect x="525.70" y="154.00" width="82.00" height="7.30" stroke="#1a1a1a" stroke-width="0.96" fill="none" rx="0" />
<line x1="530.30" y1="157.50" x2="602.30" y2="157.50" stroke="#1a1a1a" stroke-width="0.60" />
<rect x="525.70" y="152.70" width="4.60" height="8.60" stroke="#1a1a1a" stroke-width="0.84" fill="none" rx="1" />
<rect x="602.30" y="152.70" width="5.40" height="8.60" stroke="#1a1a1a" stroke-width="0.84" fill="none" rx="1" />
<rect x="558.30" y="143.50" width="8.00" height="17.20" stroke="#1a1a1a" stroke-width="0.96" fill="none" rx="0" />
<rect x="559.50" y="140.70" width="5.50" height="2.80" stroke="#1a1a1a" stroke-width="0.72" fill="none" rx="0" />
<line x1="562.30" y1="145.00" x2="562.30" y2="160.00" stroke="#1a1a1a" stroke-width="0.60" />
<path d="M566.3,146 L580.5,146 Q584.3,146 584.3,150.5 Q584.3,155.3 580.5,155.3 L566.3,155.3" stroke="#1a1a1a" stroke-width="0.84" fill="none" />
<rect x="523.70" y="162.00" width="85.30" height="22.70" stroke="#1a1a1a" stroke-width="1.08" fill="none" rx="0" />
<line x1="523.70" y1="164.60" x2="609.00" y2="164.60" stroke="#1a1a1a" stroke-width="0.72" />
<rect x="532.30" y="166.00" width="68.00" height="15.30" stroke="#1a1a1a" stroke-width="0.84" fill="none" rx="0" />
<line x1="532.30" y1="182.90" x2="600.30" y2="182.90" stroke="#1a1a1a" stroke-width="0.72" />
<line x1="532.30" y1="162.00" x2="532.30" y2="184.70" stroke="#1a1a1a" stroke-width="0.72" />
<line x1="600.30" y1="162.00" x2="600.30" y2="184.70" stroke="#1a1a1a" stroke-width="0.72" />
<rect x="524.50" y="166.50" width="7.00" height="6.00" stroke="#1a1a1a" stroke-width="0.72" fill="none" rx="1" />
<rect x="524.50" y="173.50" width="7.00" height="7.00" stroke="#1a1a1a" stroke-width="0.72" fill="none" rx="1" />
<rect x="601.20" y="166.50" width="7.00" height="6.00" stroke="#1a1a1a" stroke-width="0.72" fill="none" rx="1" />
<rect x="601.20" y="173.50" width="7.00" height="7.00" stroke="#1a1a1a" stroke-width="0.72" fill="none" rx="1" />
<path d="M526.3,184.7 L528.3,187.5 L530.3,184.7" stroke="#1a1a1a" stroke-width="0.84" fill="none" />
<path d="M603.7,184.7 L605.7,187.5 L607.7,184.7" stroke="#1a1a1a" stroke-width="0.84" fill="none" />
<rect x="518.20" y="168.00" width="5.50" height="6.50" stroke="#1a1a1a" stroke-width="0.72" fill="none" rx="0" />
<rect x="517.70" y="176.00" width="6.00" height="10.50" stroke="#1a1a1a" stroke-width="0.72" fill="none" rx="0" />
<line x1="515.00" y1="172.00" x2="523.00" y2="172.00" stroke="#1a1a1a" stroke-width="0.60" />
<rect x="609.30" y="183.00" width="64.00" height="2.00" stroke="#1a1a1a" stroke-width="0.36" fill="#8a8a8a" rx="0" />
<line x1="609.30" y1="186.60" x2="673.30" y2="186.60" stroke="#1a1a1a" stroke-width="0.72" />
<circle cx="612.0" cy="186.6" r="0.9" fill="#222"/>
<circle cx="641.0" cy="186.6" r="0.9" fill="#222"/>
<circle cx="670.0" cy="186.6" r="0.9" fill="#222"/>
<line x1="673.30" y1="184.40" x2="684.70" y2="184.40" stroke="#1a1a1a" stroke-width="0.72" />
<line x1="467.70" y1="188.00" x2="467.70" y2="214.00" stroke="#1a1a1a" stroke-width="0.72" />
<line x1="518.00" y1="187.00" x2="518.00" y2="227.60" stroke="#1a1a1a" stroke-width="0.72" />
<line x1="608.70" y1="186.60" x2="608.70" y2="214.00" stroke="#1a1a1a" stroke-width="0.72" />
<line x1="684.70" y1="184.40" x2="684.70" y2="227.30" stroke="#1a1a1a" stroke-width="0.72" />
<line x1="467.70" y1="211.70" x2="518.00" y2="211.70" stroke="#1a1a1a" stroke-width="0.72" />
<path d="M471.30,210.95 L467.70,211.70 L471.30,212.45 Z" stroke="#1a1a1a" stroke-width="0.24" fill="#1a1a1a" />
<path d="M514.40,210.95 L518.00,211.70 L514.40,212.45 Z" stroke="#1a1a1a" stroke-width="0.24" fill="#1a1a1a" />
<line x1="518.00" y1="211.70" x2="608.70" y2="211.70" stroke="#1a1a1a" stroke-width="0.72" />
<path d="M521.60,210.95 L518.00,211.70 L521.60,212.45 Z" stroke="#1a1a1a" stroke-width="0.24" fill="#1a1a1a" />
<path d="M605.10,210.95 L608.70,211.70 L605.10,212.45 Z" stroke="#1a1a1a" stroke-width="0.24" fill="#1a1a1a" />
<line x1="518.00" y1="224.90" x2="684.70" y2="224.90" stroke="#1a1a1a" stroke-width="0.72" />
<path d="M521.60,224.15 L518.00,224.90 L521.60,225.65 Z" stroke="#1a1a1a" stroke-width="0.24" fill="#1a1a1a" />
<path d="M681.10,224.15 L684.70,224.90 L681.10,225.65 Z" stroke="#1a1a1a" stroke-width="0.24" fill="#1a1a1a" />
<text x="471.50" y="210.60" font-family="Liberation Serif" font-size="5.4" font-weight="normal" fill="#555" textLength="43.00" lengthAdjust="spacingAndGlyphs" >Minimum 2000mm</text>
<text x="549.80" y="210.80" font-family="Liberation Sans" font-size="6.4" font-weight="normal" fill="#222" textLength="26.10" lengthAdjust="spacingAndGlyphs" stroke="#222" stroke-width="0.18">2395mm</text>
<text x="589.50" y="224.20" font-family="Liberation Sans" font-size="6.4" font-weight="normal" fill="#222" textLength="23.80" lengthAdjust="spacingAndGlyphs" stroke="#222" stroke-width="0.18">4431mm</text>
<rect x="91.40" y="255.50" width="297.90" height="13.40" stroke="#1a1a1a" stroke-width="1.08" fill="none" rx="0" />
<line x1="91.40" y1="257.80" x2="389.30" y2="257.80" stroke="#1a1a1a" stroke-width="0.84" />
<line x1="91.40" y1="264.60" x2="389.30" y2="264.60" stroke="#1a1a1a" stroke-width="0.84" />
<line x1="92.10" y1="257.80" x2="92.10" y2="264.60" stroke="#1a1a1a" stroke-width="0.84" />
<line x1="98.06" y1="257.80" x2="98.06" y2="264.60" stroke="#1a1a1a" stroke-width="0.84" />
<line x1="104.02" y1="257.80" x2="104.02" y2="264.60" stroke="#1a1a1a" stroke-width="0.84" />
<line x1="109.98" y1="257.80" x2="109.98" y2="264.60" stroke="#1a1a1a" stroke-width="0.84" />
<line x1="115.94" y1="257.80" x2="115.94" y2="264.60" stroke="#1a1a1a" stroke-width="0.84" />
<line x1="121.90" y1="257.80" x2="121.90" y2="264.60" stroke="#1a1a1a" stroke-width="0.84" />
<line x1="127.86" y1="257.80" x2="127.86" y2="264.60" stroke="#1a1a1a" stroke-width="0.84" />
<line x1="133.82" y1="257.80" x2="133.82" y2="264.60" stroke="#1a1a1a" stroke-width="0.84" />
<line x1="139.78" y1="257.80" x2="139.78" y2="264.60" stroke="#1a1a1a" stroke-width="0.84" />
<line x1="145.74" y1="257.80" x2="145.74" y2="264.60" stroke="#1a1a1a" stroke-width="0.84" />
<line x1="151.70" y1="257.80" x2="151.70" y2="264.60" stroke="#1a1a1a" stroke-width="0.84" />
<line x1="157.66" y1="257.80" x2="157.66" y2="264.60" stroke="#1a1a1a" stroke-width="0.84" />
<line x1="163.62" y1="257.80" x2="163.62" y2="264.60" stroke="#1a1a1a" stroke-width="0.84" />
<line x1="169.58" y1="257.80" x2="169.58" y2="264.60" stroke="#1a1a1a" stroke-width="0.84" />
<line x1="175.54" y1="257.80" x2="175.54" y2="264.60" stroke="#1a1a1a" stroke-width="0.84" />
<line x1="181.50" y1="257.80" x2="181.50" y2="264.60" stroke="#1a1a1a" stroke-width="0.84" />
<line x1="187.46" y1="257.80" x2="187.46" y2="264.60" stroke="#1a1a1a" stroke-width="0.84" />
<line x1="193.42" y1="257.80" x2="193.42" y2="264.60" stroke="#1a1a1a" stroke-width="0.84" />
<line x1="199.38" y1="257.80" x2="199.38" y2="264.60" stroke="#1a1a1a" stroke-width="0.84" />
<line x1="205.34" y1="257.80" x2="205.34" y2="264.60" stroke="#1a1a1a" stroke-width="0.84" />
<line x1="211.30" y1="257.80" x2="211.30" y2="264.60" stroke="#1a1a1a" stroke-width="0.84" />
<line x1="217.26" y1="257.80" x2="217.26" y2="264.60" stroke="#1a1a1a" stroke-width="0.84" />
<line x1="223.22" y1="257.80" x2="223.22" y2="264.60" stroke="#1a1a1a" stroke-width="0.84" />
<line x1="229.18" y1="257.80" x2="229.18" y2="264.60" stroke="#1a1a1a" stroke-width="0.84" />
<line x1="235.14" y1="257.80" x2="235.14" y2="264.60" stroke="#1a1a1a" stroke-width="0.84" />
<line x1="241.10" y1="257.80" x2="241.10" y2="264.60" stroke="#1a1a1a" stroke-width="0.84" />
<line x1="247.06" y1="257.80" x2="247.06" y2="264.60" stroke="#1a1a1a" stroke-width="0.84" />
<line x1="253.02" y1="257.80" x2="253.02" y2="264.60" stroke="#1a1a1a" stroke-width="0.84" />
<line x1="258.98" y1="257.80" x2="258.98" y2="264.60" stroke="#1a1a1a" stroke-width="0.84" />
<line x1="264.94" y1="257.80" x2="264.94" y2="264.60" stroke="#1a1a1a" stroke-width="0.84" />
<line x1="270.90" y1="257.80" x2="270.90" y2="264.60" stroke="#1a1a1a" stroke-width="0.84" />
<line x1="276.86" y1="257.80" x2="276.86" y2="264.60" stroke="#1a1a1a" stroke-width="0.84" />
<line x1="282.82" y1="257.80" x2="282.82" y2="264.60" stroke="#1a1a1a" stroke-width="0.84" />
<line x1="288.78" y1="257.80" x2="288.78" y2="264.60" stroke="#1a1a1a" stroke-width="0.84" />
<line x1="294.74" y1="257.80" x2="294.74" y2="264.60" stroke="#1a1a1a" stroke-width="0.84" />
<line x1="300.70" y1="257.80" x2="300.70" y2="264.60" stroke="#1a1a1a" stroke-width="0.84" />
<line x1="306.66" y1="257.80" x2="306.66" y2="264.60" stroke="#1a1a1a" stroke-width="0.84" />
<line x1="312.62" y1="257.80" x2="312.62" y2="264.60" stroke="#1a1a1a" stroke-width="0.84" />
<line x1="318.58" y1="257.80" x2="318.58" y2="264.60" stroke="#1a1a1a" stroke-width="0.84" />
<line x1="324.54" y1="257.80" x2="324.54" y2="264.60" stroke="#1a1a1a" stroke-width="0.84" />
<line x1="330.50" y1="257.80" x2="330.50" y2="264.60" stroke="#1a1a1a" stroke-width="0.84" />
<line x1="336.46" y1="257.80" x2="336.46" y2="264.60" stroke="#1a1a1a" stroke-width="0.84" />
<line x1="342.42" y1="257.80" x2="342.42" y2="264.60" stroke="#1a1a1a" stroke-width="0.84" />
<line x1="348.38" y1="257.80" x2="348.38" y2="264.60" stroke="#1a1a1a" stroke-width="0.84" />
<line x1="354.34" y1="257.80" x2="354.34" y2="264.60" stroke="#1a1a1a" stroke-width="0.84" />
<line x1="360.30" y1="257.80" x2="360.30" y2="264.60" stroke="#1a1a1a" stroke-width="0.84" />
<line x1="366.26" y1="257.80" x2="366.26" y2="264.60" stroke="#1a1a1a" stroke-width="0.84" />
<line x1="372.22" y1="257.80" x2="372.22" y2="264.60" stroke="#1a1a1a" stroke-width="0.84" />
<line x1="378.18" y1="257.80" x2="378.18" y2="264.60" stroke="#1a1a1a" stroke-width="0.84" />
<line x1="384.14" y1="257.80" x2="384.14" y2="264.60" stroke="#1a1a1a" stroke-width="0.84" />
<line x1="95.08" y1="255.50" x2="95.08" y2="257.80" stroke="#1a1a1a" stroke-width="0.72" />
<line x1="95.08" y1="264.60" x2="95.08" y2="268.90" stroke="#1a1a1a" stroke-width="0.72" />
<line x1="101.04" y1="255.50" x2="101.04" y2="257.80" stroke="#1a1a1a" stroke-width="0.72" />
<line x1="101.04" y1="264.60" x2="101.04" y2="268.90" stroke="#1a1a1a" stroke-width="0.72" />
<line x1="107.00" y1="255.50" x2="107.00" y2="257.80" stroke="#1a1a1a" stroke-width="0.72" />
<line x1="107.00" y1="264.60" x2="107.00" y2="268.90" stroke="#1a1a1a" stroke-width="0.72" />
<line x1="112.96" y1="255.50" x2="112.96" y2="257.80" stroke="#1a1a1a" stroke-width="0.72" />
<line x1="112.96" y1="264.60" x2="112.96" y2="268.90" stroke="#1a1a1a" stroke-width="0.72" />
<line x1="118.92" y1="255.50" x2="118.92" y2="257.80" stroke="#1a1a1a" stroke-width="0.72" />
<line x1="118.92" y1="264.60" x2="118.92" y2="268.90" stroke="#1a1a1a" stroke-width="0.72" />
<line x1="124.88" y1="255.50" x2="124.88" y2="257.80" stroke="#1a1a1a" stroke-width="0.72" />
<line x1="124.88" y1="264.60" x2="124.88" y2="268.90" stroke="#1a1a1a" stroke-width="0.72" />
<line x1="130.84" y1="255.50" x2="130.84" y2="257.80" stroke="#1a1a1a" stroke-width="0.72" />
<line x1="130.84" y1="264.60" x2="130.84" y2="268.90" stroke="#1a1a1a" stroke-width="0.72" />
<line x1="136.80" y1="255.50" x2="136.80" y2="257.80" stroke="#1a1a1a" stroke-width="0.72" />
<line x1="136.80" y1="264.60" x2="136.80" y2="268.90" stroke="#1a1a1a" stroke-width="0.72" />
<line x1="142.76" y1="255.50" x2="142.76" y2="257.80" stroke="#1a1a1a" stroke-width="0.72" />
<line x1="142.76" y1="264.60" x2="142.76" y2="268.90" stroke="#1a1a1a" stroke-width="0.72" />
<line x1="148.72" y1="255.50" x2="148.72" y2="257.80" stroke="#1a1a1a" stroke-width="0.72" />
<line x1="148.72" y1="264.60" x2="148.72" y2="268.90" stroke="#1a1a1a" stroke-width="0.72" />
<line x1="154.68" y1="255.50" x2="154.68" y2="257.80" stroke="#1a1a1a" stroke-width="0.72" />
<line x1="154.68" y1="264.60" x2="154.68" y2="268.90" stroke="#1a1a1a" stroke-width="0.72" />
<line x1="160.64" y1="255.50" x2="160.64" y2="257.80" stroke="#1a1a1a" stroke-width="0.72" />
<line x1="160.64" y1="264.60" x2="160.64" y2="268.90" stroke="#1a1a1a" stroke-width="0.72" />
<line x1="166.60" y1="255.50" x2="166.60" y2="257.80" stroke="#1a1a1a" stroke-width="0.72" />
<line x1="166.60" y1="264.60" x2="166.60" y2="268.90" stroke="#1a1a1a" stroke-width="0.72" />
<line x1="172.56" y1="255.50" x2="172.56" y2="257.80" stroke="#1a1a1a" stroke-width="0.72" />
<line x1="172.56" y1="264.60" x2="172.56" y2="268.90" stroke="#1a1a1a" stroke-width="0.72" />
<line x1="178.52" y1="255.50" x2="178.52" y2="257.80" stroke="#1a1a1a" stroke-width="0.72" />
<line x1="178.52" y1="264.60" x2="178.52" y2="268.90" stroke="#1a1a1a" stroke-width="0.72" />
<line x1="184.48" y1="255.50" x2="184.48" y2="257.80" stroke="#1a1a1a" stroke-width="0.72" />
<line x1="184.48" y1="264.60" x2="184.48" y2="268.90" stroke="#1a1a1a" stroke-width="0.72" />
<line x1="190.44" y1="255.50" x2="190.44" y2="257.80" stroke="#1a1a1a" stroke-width="0.72" />
<line x1="190.44" y1="264.60" x2="190.44" y2="268.90" stroke="#1a1a1a" stroke-width="0.72" />
<line x1="196.40" y1="255.50" x2="196.40" y2="257.80" stroke="#1a1a1a" stroke-width="0.72" />
<line x1="196.40" y1="264.60" x2="196.40" y2="268.90" stroke="#1a1a1a" stroke-width="0.72" />
<line x1="202.36" y1="255.50" x2="202.36" y2="257.80" stroke="#1a1a1a" stroke-width="0.72" />
<line x1="202.36" y1="264.60" x2="202.36" y2="268.90" stroke="#1a1a1a" stroke-width="0.72" />
<line x1="208.32" y1="255.50" x2="208.32" y2="257.80" stroke="#1a1a1a" stroke-width="0.72" />
<line x1="208.32" y1="264.60" x2="208.32" y2="268.90" stroke="#1a1a1a" stroke-width="0.72" />
<line x1="214.28" y1="255.50" x2="214.28" y2="257.80" stroke="#1a1a1a" stroke-width="0.72" />
<line x1="214.28" y1="264.60" x2="214.28" y2="268.90" stroke="#1a1a1a" stroke-width="0.72" />
<line x1="220.24" y1="255.50" x2="220.24" y2="257.80" stroke="#1a1a1a" stroke-width="0.72" />
<line x1="220.24" y1="264.60" x2="220.24" y2="268.90" stroke="#1a1a1a" stroke-width="0.72" />
<line x1="226.20" y1="255.50" x2="226.20" y2="257.80" stroke="#1a1a1a" stroke-width="0.72" />
<line x1="226.20" y1="264.60" x2="226.20" y2="268.90" stroke="#1a1a1a" stroke-width="0.72" />
<line x1="232.16" y1="255.50" x2="232.16" y2="257.80" stroke="#1a1a1a" stroke-width="0.72" />
<line x1="232.16" y1="264.60" x2="232.16" y2="268.90" stroke="#1a1a1a" stroke-width="0.72" />
<line x1="238.12" y1="255.50" x2="238.12" y2="257.80" stroke="#1a1a1a" stroke-width="0.72" />
<line x1="238.12" y1="264.60" x2="238.12" y2="268.90" stroke="#1a1a1a" stroke-width="0.72" />
<line x1="244.08" y1="255.50" x2="244.08" y2="257.80" stroke="#1a1a1a" stroke-width="0.72" />
<line x1="244.08" y1="264.60" x2="244.08" y2="268.90" stroke="#1a1a1a" stroke-width="0.72" />
<line x1="250.04" y1="255.50" x2="250.04" y2="257.80" stroke="#1a1a1a" stroke-width="0.72" />
<line x1="250.04" y1="264.60" x2="250.04" y2="268.90" stroke="#1a1a1a" stroke-width="0.72" />
<line x1="256.00" y1="255.50" x2="256.00" y2="257.80" stroke="#1a1a1a" stroke-width="0.72" />
<line x1="256.00" y1="264.60" x2="256.00" y2="268.90" stroke="#1a1a1a" stroke-width="0.72" />
<line x1="261.96" y1="255.50" x2="261.96" y2="257.80" stroke="#1a1a1a" stroke-width="0.72" />
<line x1="261.96" y1="264.60" x2="261.96" y2="268.90" stroke="#1a1a1a" stroke-width="0.72" />
<line x1="267.92" y1="255.50" x2="267.92" y2="257.80" stroke="#1a1a1a" stroke-width="0.72" />
<line x1="267.92" y1="264.60" x2="267.92" y2="268.90" stroke="#1a1a1a" stroke-width="0.72" />
<line x1="273.88" y1="255.50" x2="273.88" y2="257.80" stroke="#1a1a1a" stroke-width="0.72" />
<line x1="273.88" y1="264.60" x2="273.88" y2="268.90" stroke="#1a1a1a" stroke-width="0.72" />
<line x1="279.84" y1="255.50" x2="279.84" y2="257.80" stroke="#1a1a1a" stroke-width="0.72" />
<line x1="279.84" y1="264.60" x2="279.84" y2="268.90" stroke="#1a1a1a" stroke-width="0.72" />
<line x1="285.80" y1="255.50" x2="285.80" y2="257.80" stroke="#1a1a1a" stroke-width="0.72" />
<line x1="285.80" y1="264.60" x2="285.80" y2="268.90" stroke="#1a1a1a" stroke-width="0.72" />
<line x1="291.76" y1="255.50" x2="291.76" y2="257.80" stroke="#1a1a1a" stroke-width="0.72" />
<line x1="291.76" y1="264.60" x2="291.76" y2="268.90" stroke="#1a1a1a" stroke-width="0.72" />
<line x1="297.72" y1="255.50" x2="297.72" y2="257.80" stroke="#1a1a1a" stroke-width="0.72" />
<line x1="297.72" y1="264.60" x2="297.72" y2="268.90" stroke="#1a1a1a" stroke-width="0.72" />
<line x1="303.68" y1="255.50" x2="303.68" y2="257.80" stroke="#1a1a1a" stroke-width="0.72" />
<line x1="303.68" y1="264.60" x2="303.68" y2="268.90" stroke="#1a1a1a" stroke-width="0.72" />
<line x1="309.64" y1="255.50" x2="309.64" y2="257.80" stroke="#1a1a1a" stroke-width="0.72" />
<line x1="309.64" y1="264.60" x2="309.64" y2="268.90" stroke="#1a1a1a" stroke-width="0.72" />
<line x1="315.60" y1="255.50" x2="315.60" y2="257.80" stroke="#1a1a1a" stroke-width="0.72" />
<line x1="315.60" y1="264.60" x2="315.60" y2="268.90" stroke="#1a1a1a" stroke-width="0.72" />
<line x1="321.56" y1="255.50" x2="321.56" y2="257.80" stroke="#1a1a1a" stroke-width="0.72" />
<line x1="321.56" y1="264.60" x2="321.56" y2="268.90" stroke="#1a1a1a" stroke-width="0.72" />
<line x1="327.52" y1="255.50" x2="327.52" y2="257.80" stroke="#1a1a1a" stroke-width="0.72" />
<line x1="327.52" y1="264.60" x2="327.52" y2="268.90" stroke="#1a1a1a" stroke-width="0.72" />
<line x1="333.48" y1="255.50" x2="333.48" y2="257.80" stroke="#1a1a1a" stroke-width="0.72" />
<line x1="333.48" y1="264.60" x2="333.48" y2="268.90" stroke="#1a1a1a" stroke-width="0.72" />
<line x1="339.44" y1="255.50" x2="339.44" y2="257.80" stroke="#1a1a1a" stroke-width="0.72" />
<line x1="339.44" y1="264.60" x2="339.44" y2="268.90" stroke="#1a1a1a" stroke-width="0.72" />
<line x1="345.40" y1="255.50" x2="345.40" y2="257.80" stroke="#1a1a1a" stroke-width="0.72" />
<line x1="345.40" y1="264.60" x2="345.40" y2="268.90" stroke="#1a1a1a" stroke-width="0.72" />
<line x1="351.36" y1="255.50" x2="351.36" y2="257.80" stroke="#1a1a1a" stroke-width="0.72" />
<line x1="351.36" y1="264.60" x2="351.36" y2="268.90" stroke="#1a1a1a" stroke-width="0.72" />
<line x1="357.32" y1="255.50" x2="357.32" y2="257.80" stroke="#1a1a1a" stroke-width="0.72" />
<line x1="357.32" y1="264.60" x2="357.32" y2="268.90" stroke="#1a1a1a" stroke-width="0.72" />
<line x1="363.28" y1="255.50" x2="363.28" y2="257.80" stroke="#1a1a1a" stroke-width="0.72" />
<line x1="363.28" y1="264.60" x2="363.28" y2="268.90" stroke="#1a1a1a" stroke-width="0.72" />
<line x1="369.24" y1="255.50" x2="369.24" y2="257.80" stroke="#1a1a1a" stroke-width="0.72" />
<line x1="369.24" y1="264.60" x2="369.24" y2="268.90" stroke="#1a1a1a" stroke-width="0.72" />
<line x1="375.20" y1="255.50" x2="375.20" y2="257.80" stroke="#1a1a1a" stroke-width="0.72" />
<line x1="375.20" y1="264.60" x2="375.20" y2="268.90" stroke="#1a1a1a" stroke-width="0.72" />
<line x1="381.16" y1="255.50" x2="381.16" y2="257.80" stroke="#1a1a1a" stroke-width="0.72" />
<line x1="381.16" y1="264.60" x2="381.16" y2="268.90" stroke="#1a1a1a" stroke-width="0.72" />
<line x1="387.12" y1="255.50" x2="387.12" y2="257.80" stroke="#1a1a1a" stroke-width="0.72" />
<line x1="387.12" y1="264.60" x2="387.12" y2="268.90" stroke="#1a1a1a" stroke-width="0.72" />
<rect x="91.35" y="268.90" width="13.45" height="196.70" stroke="#1a1a1a" stroke-width="1.08" fill="none" rx="0" />
<line x1="91.35" y1="255.50" x2="91.35" y2="268.90" stroke="#1a1a1a" stroke-width="1.08" />
<line x1="91.35" y1="275.45" x2="104.80" y2="275.45" stroke="#1a1a1a" stroke-width="0.84" />
<line x1="98.10" y1="268.90" x2="98.10" y2="275.45" stroke="#1a1a1a" stroke-width="0.84" />
<line x1="91.35" y1="282.00" x2="104.80" y2="282.00" stroke="#1a1a1a" stroke-width="0.84" />
<line x1="94.70" y1="275.45" x2="94.70" y2="282.00" stroke="#1a1a1a" stroke-width="0.84" />
<line x1="101.40" y1="275.45" x2="101.40" y2="282.00" stroke="#1a1a1a" stroke-width="0.84" />
<line x1="91.35" y1="288.55" x2="104.80" y2="288.55" stroke="#1a1a1a" stroke-width="0.84" />
<line x1="98.10" y1="282.00" x2="98.10" y2="288.55" stroke="#1a1a1a" stroke-width="0.84" />
<line x1="91.35" y1="295.10" x2="104.80" y2="295.10" stroke="#1a1a1a" stroke-width="0.84" />
<line x1="94.70" y1="288.55" x2="94.70" y2="295.10" stroke="#1a1a1a" stroke-width="0.84" />
<line x1="101.40" y1="288.55" x2="101.40" y2="295.10" stroke="#1a1a1a" stroke-width="0.84" />
<line x1="91.35" y1="301.65" x2="104.80" y2="301.65" stroke="#1a1a1a" stroke-width="0.84" />
<line x1="98.10" y1="295.10" x2="98.10" y2="301.65" stroke="#1a1a1a" stroke-width="0.84" />
<line x1="91.35" y1="308.20" x2="104.80" y2="308.20" stroke="#1a1a1a" stroke-width="0.84" />
<line x1="94.70" y1="301.65" x2="94.70" y2="308.20" stroke="#1a1a1a" stroke-width="0.84" />
<line x1="101.40" y1="301.65" x2="101.40" y2="308.20" stroke="#1a1a1a" stroke-width="0.84" />
<line x1="91.35" y1="314.75" x2="104.80" y2="314.75" stroke="#1a1a1a" stroke-width="0.84" />
<line x1="98.10" y1="308.20" x2="98.10" y2="314.75" stroke="#1a1a1a" stroke-width="0.84" />
<line x1="91.35" y1="321.30" x2="104.80" y2="321.30" stroke="#1a1a1a" stroke-width="0.84" />
<line x1="94.70" y1="314.75" x2="94.70" y2="321.30" stroke="#1a1a1a" stroke-width="0.84" />
<line x1="101.40" y1="314.75" x2="101.40" y2="321.30" stroke="#1a1a1a" stroke-width="0.84" />
<line x1="91.35" y1="327.85" x2="104.80" y2="327.85" stroke="#1a1a1a" stroke-width="0.84" />
<line x1="98.10" y1="321.30" x2="98.10" y2="327.85" stroke="#1a1a1a" stroke-width="0.84" />
<line x1="91.35" y1="334.40" x2="104.80" y2="334.40" stroke="#1a1a1a" stroke-width="0.84" />
<line x1="94.70" y1="327.85" x2="94.70" y2="334.40" stroke="#1a1a1a" stroke-width="0.84" />
<line x1="101.40" y1="327.85" x2="101.40" y2="334.40" stroke="#1a1a1a" stroke-width="0.84" />
<line x1="91.35" y1="340.95" x2="104.80" y2="340.95" stroke="#1a1a1a" stroke-width="0.84" />
<line x1="98.10" y1="334.40" x2="98.10" y2="340.95" stroke="#1a1a1a" stroke-width="0.84" />
<line x1="91.35" y1="347.50" x2="104.80" y2="347.50" stroke="#1a1a1a" stroke-width="0.84" />
<line x1="94.70" y1="340.95" x2="94.70" y2="347.50" stroke="#1a1a1a" stroke-width="0.84" />
<line x1="101.40" y1="340.95" x2="101.40" y2="347.50" stroke="#1a1a1a" stroke-width="0.84" />
<line x1="91.35" y1="354.05" x2="104.80" y2="354.05" stroke="#1a1a1a" stroke-width="0.84" />
<line x1="98.10" y1="347.50" x2="98.10" y2="354.05" stroke="#1a1a1a" stroke-width="0.84" />
<line x1="91.35" y1="360.60" x2="104.80" y2="360.60" stroke="#1a1a1a" stroke-width="0.84" />
<line x1="94.70" y1="354.05" x2="94.70" y2="360.60" stroke="#1a1a1a" stroke-width="0.84" />
<line x1="101.40" y1="354.05" x2="101.40" y2="360.60" stroke="#1a1a1a" stroke-width="0.84" />
<line x1="91.35" y1="367.15" x2="104.80" y2="367.15" stroke="#1a1a1a" stroke-width="0.84" />
<line x1="98.10" y1="360.60" x2="98.10" y2="367.15" stroke="#1a1a1a" stroke-width="0.84" />
<line x1="91.35" y1="373.70" x2="104.80" y2="373.70" stroke="#1a1a1a" stroke-width="0.84" />
<line x1="94.70" y1="367.15" x2="94.70" y2="373.70" stroke="#1a1a1a" stroke-width="0.84" />
<line x1="101.40" y1="367.15" x2="101.40" y2="373.70" stroke="#1a1a1a" stroke-width="0.84" />
<line x1="91.35" y1="380.25" x2="104.80" y2="380.25" stroke="#1a1a1a" stroke-width="0.84" />
<line x1="98.10" y1="373.70" x2="98.10" y2="380.25" stroke="#1a1a1a" stroke-width="0.84" />
<line x1="91.35" y1="386.80" x2="104.80" y2="386.80" stroke="#1a1a1a" stroke-width="0.84" />
<line x1="94.70" y1="380.25" x2="94.70" y2="386.80" stroke="#1a1a1a" stroke-width="0.84" />
<line x1="101.40" y1="380.25" x2="101.40" y2="386.80" stroke="#1a1a1a" stroke-width="0.84" />
<line x1="91.35" y1="393.35" x2="104.80" y2="393.35" stroke="#1a1a1a" stroke-width="0.84" />
<line x1="98.10" y1="386.80" x2="98.10" y2="393.35" stroke="#1a1a1a" stroke-width="0.84" />
<line x1="91.35" y1="399.90" x2="104.80" y2="399.90" stroke="#1a1a1a" stroke-width="0.84" />
<line x1="94.70" y1="393.35" x2="94.70" y2="399.90" stroke="#1a1a1a" stroke-width="0.84" />
<line x1="101.40" y1="393.35" x2="101.40" y2="399.90" stroke="#1a1a1a" stroke-width="0.84" />
<line x1="91.35" y1="406.45" x2="104.80" y2="406.45" stroke="#1a1a1a" stroke-width="0.84" />
<line x1="98.10" y1="399.90" x2="98.10" y2="406.45" stroke="#1a1a1a" stroke-width="0.84" />
<line x1="91.35" y1="413.00" x2="104.80" y2="413.00" stroke="#1a1a1a" stroke-width="0.84" />
<line x1="94.70" y1="406.45" x2="94.70" y2="413.00" stroke="#1a1a1a" stroke-width="0.84" />
<line x1="101.40" y1="406.45" x2="101.40" y2="413.00" stroke="#1a1a1a" stroke-width="0.84" />
<line x1="91.35" y1="419.55" x2="104.80" y2="419.55" stroke="#1a1a1a" stroke-width="0.84" />
<line x1="98.10" y1="413.00" x2="98.10" y2="419.55" stroke="#1a1a1a" stroke-width="0.84" />
<line x1="91.35" y1="426.10" x2="104.80" y2="426.10" stroke="#1a1a1a" stroke-width="0.84" />
<line x1="94.70" y1="419.55" x2="94.70" y2="426.10" stroke="#1a1a1a" stroke-width="0.84" />
<line x1="101.40" y1="419.55" x2="101.40" y2="426.10" stroke="#1a1a1a" stroke-width="0.84" />
<line x1="91.35" y1="432.65" x2="104.80" y2="432.65" stroke="#1a1a1a" stroke-width="0.84" />
<line x1="98.10" y1="426.10" x2="98.10" y2="432.65" stroke="#1a1a1a" stroke-width="0.84" />
<line x1="91.35" y1="439.20" x2="104.80" y2="439.20" stroke="#1a1a1a" stroke-width="0.84" />
<line x1="94.70" y1="432.65" x2="94.70" y2="439.20" stroke="#1a1a1a" stroke-width="0.84" />
<line x1="101.40" y1="432.65" x2="101.40" y2="439.20" stroke="#1a1a1a" stroke-width="0.84" />
<line x1="91.35" y1="445.75" x2="104.80" y2="445.75" stroke="#1a1a1a" stroke-width="0.84" />
<line x1="98.10" y1="439.20" x2="98.10" y2="445.75" stroke="#1a1a1a" stroke-width="0.84" />
<line x1="91.35" y1="452.30" x2="104.80" y2="452.30" stroke="#1a1a1a" stroke-width="0.84" />
<line x1="94.70" y1="445.75" x2="94.70" y2="452.30" stroke="#1a1a1a" stroke-width="0.84" />
<line x1="101.40" y1="445.75" x2="101.40" y2="452.30" stroke="#1a1a1a" stroke-width="0.84" />
<line x1="91.35" y1="458.85" x2="104.80" y2="458.85" stroke="#1a1a1a" stroke-width="0.84" />
<line x1="98.10" y1="452.30" x2="98.10" y2="458.85" stroke="#1a1a1a" stroke-width="0.84" />
<line x1="94.70" y1="458.85" x2="94.70" y2="465.40" stroke="#1a1a1a" stroke-width="0.84" />
<line x1="101.40" y1="458.85" x2="101.40" y2="465.40" stroke="#1a1a1a" stroke-width="0.84" />
<text x="160.20" y="242.00" font-family="Liberation Serif" font-size="7.2" font-weight="normal" fill="#444" textLength="16.80" lengthAdjust="spacing" >Wall</text>
<line x1="155.20" y1="243.60" x2="176.80" y2="243.60" stroke="#1a1a1a" stroke-width="0.72" />
<line x1="155.20" y1="243.60" x2="152.00" y2="255.40" stroke="#1a1a1a" stroke-width="1.08" />
<text x="109.00" y="367.00" font-family="Liberation Serif" font-size="9.0" font-weight="normal" fill="#555" textLength="21.70" lengthAdjust="spacingAndGlyphs" >Front</text>
<text x="360.90" y="370.70" font-family="Liberation Serif" font-size="8.6" font-weight="normal" fill="#444" textLength="17.90" lengthAdjust="spacingAndGlyphs" >Back</text>
<line x1="91.35" y1="465.60" x2="91.35" y2="477.60" stroke="#1a1a1a" stroke-width="0.72" />
<line x1="104.80" y1="465.60" x2="104.80" y2="477.60" stroke="#1a1a1a" stroke-width="0.72" />
<line x1="65.60" y1="475.70" x2="104.80" y2="475.70" stroke="#1a1a1a" stroke-width="0.72" />
<path d="M94.3,475.0 L91.35,475.7 L94.3,476.4" stroke="#1a1a1a" stroke-width="0.60" fill="none" />
<path d="M101.8,475.0 L104.8,475.7 L101.8,476.4" stroke="#1a1a1a" stroke-width="0.60" fill="none" />
<text x="66.40" y="474.60" font-family="Liberation Sans" font-size="5.6" font-weight="normal" fill="#222" textLength="20.00" lengthAdjust="spacingAndGlyphs" stroke="#222" stroke-width="0.18">500mm</text>
<line x1="147.30" y1="268.90" x2="147.30" y2="318.60" stroke="#1a1a1a" stroke-width="0.72" />
<path d="M146.55,272.50 L147.30,268.90 L148.05,272.50 Z" stroke="#1a1a1a" stroke-width="0.24" fill="#1a1a1a" />
<path d="M146.55,315.00 L147.30,318.60 L148.05,315.00 Z" stroke="#1a1a1a" stroke-width="0.24" fill="#1a1a1a" />
<line x1="147.30" y1="318.60" x2="147.30" y2="408.60" stroke="#1a1a1a" stroke-width="0.72" />
<path d="M146.55,322.20 L147.30,318.60 L148.05,322.20 Z" stroke="#1a1a1a" stroke-width="0.24" fill="#1a1a1a" />
<path d="M146.55,405.00 L147.30,408.60 L148.05,405.00 Z" stroke="#1a1a1a" stroke-width="0.24" fill="#1a1a1a" />
<line x1="147.30" y1="408.60" x2="147.30" y2="484.80" stroke="#1a1a1a" stroke-width="0.72" />
<path d="M146.55,412.20 L147.30,408.60 L148.05,412.20 Z" stroke="#1a1a1a" stroke-width="0.24" fill="#1a1a1a" />
<path d="M146.55,481.20 L147.30,484.80 L148.05,481.20 Z" stroke="#1a1a1a" stroke-width="0.24" fill="#1a1a1a" />
<line x1="144.60" y1="318.40" x2="352.00" y2="318.40" stroke="#1a1a1a" stroke-width="0.72" />
<line x1="144.60" y1="408.60" x2="154.20" y2="408.60" stroke="#1a1a1a" stroke-width="0.60" />
<line x1="144.60" y1="484.80" x2="178.40" y2="484.80" stroke="#1a1a1a" stroke-width="0.72" />
<text x="0" y="0" font-family="Liberation Serif" font-size="5.4" fill="#555" textLength="43" lengthAdjust="spacingAndGlyphs" transform="translate(145.4,314.6) rotate(-90)">Minimum 2000mm</text>
<text x="0" y="0" font-family="Liberation Sans" font-size="6.8" fill="#222" stroke="#222" stroke-width="0.18" textLength="25" lengthAdjust="spacingAndGlyphs" transform="translate(146.2,376.0) rotate(-90)">2395mm</text>
<text x="0" y="0" font-family="Liberation Sans" font-size="6.8" fill="#222" stroke="#222" stroke-width="0.18" textLength="25" lengthAdjust="spacingAndGlyphs" transform="translate(146.2,459.0) rotate(-90)">2036mm</text>
<rect x="224.10" y="286.60" width="13.30" height="12.00" stroke="#1a1a1a" stroke-width="0.96" fill="none" rx="0" />
<rect x="259.20" y="279.40" width="35.20" height="19.20" stroke="#1a1a1a" stroke-width="0.96" fill="none" rx="0" />
<rect x="316.20" y="280.50" width="27.70" height="18.10" stroke="#1a1a1a" stroke-width="0.96" fill="none" rx="0" />
<text x="179.80" y="289.30" font-family="Liberation Mono" font-size="5.0" font-weight="normal" fill="#555" textLength="21.60" lengthAdjust="spacingAndGlyphs" >Display</text>
<line x1="174.20" y1="290.10" x2="202.20" y2="290.10" stroke="#1a1a1a" stroke-width="0.72" />
<line x1="174.20" y1="290.10" x2="172.60" y2="299.40" stroke="#1a1a1a" stroke-width="0.84" />
<rect x="-2.6" y="-6.8" width="5.2" height="13.6" rx="1.3" stroke="#1a1a1a" stroke-width="0.7" fill="none" transform="translate(170.2,309.4) rotate(20)"/>
<rect x="-1.2" y="-4.5" width="2.4" height="9" stroke="#1a1a1a" stroke-width="0.6" fill="#999" transform="translate(174.2,310.5) rotate(20)"/>
<line x1="173.20" y1="315.50" x2="171.50" y2="324.00" stroke="#1a1a1a" stroke-width="1.08" />
<text x="179.00" y="312.60" font-family="Liberation Mono" font-size="5.0" font-weight="normal" fill="#555" textLength="55.00" lengthAdjust="spacingAndGlyphs" >Voltage stabilizer</text>
<line x1="179.00" y1="313.90" x2="240.60" y2="313.90" stroke="#1a1a1a" stroke-width="0.72" />
<line x1="240.60" y1="313.90" x2="235.00" y2="298.60" stroke="#1a1a1a" stroke-width="0.84" />
<text x="246.40" y="312.60" font-family="Liberation Mono" font-size="5.0" font-weight="normal" fill="#555" textLength="37.30" lengthAdjust="spacingAndGlyphs" >Water cooler</text>
<line x1="246.40" y1="313.90" x2="290.80" y2="313.90" stroke="#1a1a1a" stroke-width="0.72" />
<line x1="290.80" y1="313.90" x2="290.80" y2="298.60" stroke="#1a1a1a" stroke-width="0.84" />
<text x="314.20" y="312.60" font-family="Liberation Mono" font-size="5.0" font-weight="normal" fill="#555" textLength="15.40" lengthAdjust="spacingAndGlyphs" >Laser</text>
<line x1="314.20" y1="313.90" x2="334.90" y2="313.90" stroke="#1a1a1a" stroke-width="0.72" />
<line x1="334.90" y1="313.90" x2="338.00" y2="298.60" stroke="#1a1a1a" stroke-width="0.84" />
<rect x="154.30" y="324.20" width="199.30" height="84.40" stroke="#1a1a1a" stroke-width="1.20" fill="none" rx="0" />
<line x1="163.30" y1="324.20" x2="163.30" y2="408.60" stroke="#1a1a1a" stroke-width="0.96" />
<rect x="154.30" y="324.20" width="9.00" height="9.10" stroke="#1a1a1a" stroke-width="0.84" fill="none" rx="0" />
<rect x="155.30" y="325.30" width="7.00" height="7.00" stroke="#1a1a1a" stroke-width="0.48" fill="none" rx="0" />
<rect x="154.30" y="400.50" width="9.00" height="8.10" stroke="#1a1a1a" stroke-width="0.84" fill="none" rx="0" />
<line x1="350.50" y1="324.20" x2="350.50" y2="408.60" stroke="#1a1a1a" stroke-width="0.72" />
<rect x="163.30" y="325.40" width="187.20" height="2.00" stroke="#1a1a1a" stroke-width="0.00" fill="#111" rx="0" />
<line x1="163.30" y1="330.60" x2="350.50" y2="330.60" stroke="#1a1a1a" stroke-width="1.08" />
<line x1="163.30" y1="332.90" x2="350.50" y2="332.90" stroke="#1a1a1a" stroke-width="0.72" />
<rect x="163.30" y="325.60" width="10.20" height="7.30" stroke="#1a1a1a" stroke-width="0.84" fill="#fff" rx="0" />
<rect x="163.30" y="403.20" width="187.20" height="1.60" stroke="#1a1a1a" stroke-width="0.00" fill="#111" rx="0" />
<line x1="163.30" y1="400.50" x2="350.50" y2="400.50" stroke="#1a1a1a" stroke-width="0.84" />
<line x1="163.30" y1="406.60" x2="350.50" y2="406.60" stroke="#1a1a1a" stroke-width="0.72" />
<rect x="163.30" y="400.50" width="10.20" height="8.10" stroke="#1a1a1a" stroke-width="0.84" fill="#fff" rx="0" />
<rect x="165.90" y="335.90" width="162.30" height="61.90" stroke="#1a1a1a" stroke-width="0.84" fill="none" rx="0" />
<line x1="165.90" y1="338.60" x2="328.20" y2="338.60" stroke="#1a1a1a" stroke-width="0.96" />
<line x1="165.90" y1="357.30" x2="328.20" y2="357.30" stroke="#1a1a1a" stroke-width="1.20" />
<line x1="165.90" y1="376.30" x2="328.20" y2="376.30" stroke="#1a1a1a" stroke-width="1.20" />
<line x1="165.90" y1="395.20" x2="328.20" y2="395.20" stroke="#1a1a1a" stroke-width="0.96" />
<line x1="168.20" y1="335.90" x2="168.20" y2="397.80" stroke="#1a1a1a" stroke-width="0.84" />
<line x1="172.40" y1="335.90" x2="172.40" y2="397.80" stroke="#1a1a1a" stroke-width="1.08" />
<line x1="179.40" y1="335.90" x2="179.40" y2="397.80" stroke="#1a1a1a" stroke-width="0.96" />
<line x1="252.20" y1="335.90" x2="252.20" y2="397.80" stroke="#1a1a1a" stroke-width="0.96" />
<line x1="277.40" y1="335.90" x2="277.40" y2="397.80" stroke="#1a1a1a" stroke-width="0.96" />
<line x1="318.00" y1="335.90" x2="318.00" y2="397.80" stroke="#1a1a1a" stroke-width="0.96" />
<line x1="320.80" y1="335.90" x2="320.80" y2="397.80" stroke="#1a1a1a" stroke-width="0.84" />
<line x1="325.00" y1="335.90" x2="325.00" y2="397.80" stroke="#1a1a1a" stroke-width="1.32" />
<rect x="192.00" y="336.6" width="18.20" height="60.4" rx="2" stroke="#1a1a1a" stroke-width="1.20" fill="none"/>
<rect x="193.30" y="337.9" width="15.60" height="57.8" rx="1.5" stroke="#444" stroke-width="0.72" fill="none"/>
<line x1="195.00" y1="336.60" x2="195.00" y2="397.00" stroke="#1a1a1a" stroke-width="0.60" />
<line x1="207.20" y1="336.60" x2="207.20" y2="397.00" stroke="#1a1a1a" stroke-width="0.60" />
<rect x="222.80" y="336.6" width="17.40" height="60.4" rx="2" stroke="#1a1a1a" stroke-width="1.20" fill="none"/>
<rect x="224.10" y="337.9" width="14.80" height="57.8" rx="1.5" stroke="#444" stroke-width="0.72" fill="none"/>
<line x1="225.80" y1="336.60" x2="225.80" y2="397.00" stroke="#1a1a1a" stroke-width="0.60" />
<line x1="237.20" y1="336.60" x2="237.20" y2="397.00" stroke="#1a1a1a" stroke-width="0.60" />
<rect x="287.20" y="336.6" width="15.40" height="60.4" rx="2" stroke="#1a1a1a" stroke-width="1.20" fill="none"/>
<rect x="288.50" y="337.9" width="12.80" height="57.8" rx="1.5" stroke="#444" stroke-width="0.72" fill="none"/>
<line x1="290.20" y1="336.60" x2="290.20" y2="397.00" stroke="#1a1a1a" stroke-width="0.60" />
<line x1="299.60" y1="336.60" x2="299.60" y2="397.00" stroke="#1a1a1a" stroke-width="0.60" />
<rect x="328.20" y="332.70" width="22.30" height="67.00" stroke="#1a1a1a" stroke-width="0.96" fill="none" rx="0" />
<rect x="336.50" y="345.70" width="4.70" height="4.70" stroke="#1a1a1a" stroke-width="0.00" fill="#111" rx="0" />
<rect x="336.50" y="382.90" width="4.70" height="4.70" stroke="#1a1a1a" stroke-width="0.00" fill="#111" rx="0" />
<ellipse cx="346.8" cy="349.4" rx="0.7" ry="1.3" fill="#222"/>
<ellipse cx="346.8" cy="383.9" rx="0.7" ry="1.3" fill="#222"/>
<rect x="252.80" y="326.20" width="23.20" height="5.80" stroke="#1a1a1a" stroke-width="0.84" fill="#fff" rx="0" />
<rect x="252.80" y="400.60" width="23.20" height="7.40" stroke="#1a1a1a" stroke-width="0.84" fill="#fff" rx="0" />
<rect x="255.00" y="326.20" width="20.10" height="81.80" stroke="#1a1a1a" stroke-width="0.00" fill="#fff" rx="0" />
<line x1="256.00" y1="326.20" x2="256.00" y2="408.00" stroke="#1a1a1a" stroke-width="0.84" />
<line x1="262.10" y1="326.20" x2="262.10" y2="408.00" stroke="#1a1a1a" stroke-width="1.68" />
<line x1="265.80" y1="326.20" x2="265.80" y2="408.00" stroke="#1a1a1a" stroke-width="1.68" />
<line x1="268.60" y1="326.20" x2="268.60" y2="408.00" stroke="#1a1a1a" stroke-width="0.96" />
<line x1="275.10" y1="326.20" x2="275.10" y2="408.00" stroke="#1a1a1a" stroke-width="0.96" />
<rect x="262.10" y="332.00" width="3.70" height="68.50" stroke="#1a1a1a" stroke-width="0.00" fill="#222" rx="0" />
<rect x="263.20" y="333.00" width="1.60" height="66.50" stroke="#1a1a1a" stroke-width="0.00" fill="#bbb" rx="0" />
<rect x="266.00" y="357.50" width="9.50" height="8.50" stroke="#1a1a1a" stroke-width="0.84" fill="#fff" rx="0" />
<circle cx="258.0" cy="362.2" r="2.2" stroke="#111" stroke-width="0.9" fill="#fff"/>
<circle cx="258.0" cy="362.2" r="0.9" fill="#111"/>
<rect x="270.50" y="366.00" width="2.50" height="11.00" stroke="#1a1a1a" stroke-width="0.72" fill="#fff" rx="1.2" />
<rect x="252.80" y="318.60" width="30.70" height="5.00" stroke="#1a1a1a" stroke-width="0.84" fill="none" rx="0" />
<rect x="255.50" y="319.60" width="25.50" height="3.00" stroke="#1a1a1a" stroke-width="0.48" fill="#ccc" rx="0" />
<line x1="292.80" y1="322.00" x2="345.80" y2="322.00" stroke="#1a1a1a" stroke-width="0.72" />
<line x1="345.80" y1="318.40" x2="345.80" y2="324.20" stroke="#1a1a1a" stroke-width="0.72" />
<line x1="181.50" y1="318.40" x2="181.50" y2="324.20" stroke="#1a1a1a" stroke-width="0.72" />
<line x1="225.00" y1="318.40" x2="225.00" y2="324.20" stroke="#1a1a1a" stroke-width="0.72" />
<line x1="241.50" y1="318.40" x2="241.50" y2="324.20" stroke="#1a1a1a" stroke-width="0.72" />
<line x1="247.50" y1="318.40" x2="247.50" y2="324.20" stroke="#1a1a1a" stroke-width="0.72" />
<line x1="284.50" y1="318.40" x2="284.50" y2="324.20" stroke="#1a1a1a" stroke-width="0.72" />
<path d="M169.40,408.6 L169.40,474.6 L194.40,474.6 L194.40,408.6" stroke="#1a1a1a" stroke-width="0.96" fill="none" />
<line x1="170.90" y1="408.60" x2="170.90" y2="474.60" stroke="#1a1a1a" stroke-width="0.60" />
<line x1="173.50" y1="408.60" x2="173.50" y2="473.80" stroke="#1a1a1a" stroke-width="0.96" />
<line x1="190.30" y1="408.60" x2="190.30" y2="473.80" stroke="#1a1a1a" stroke-width="0.96" />
<line x1="192.90" y1="408.60" x2="192.90" y2="474.60" stroke="#1a1a1a" stroke-width="0.60" />
<path d="M173.50,473.8 Q181.90,475.2 190.30,473.8" stroke="#1a1a1a" stroke-width="0.72" fill="none" />
<line x1="181.90" y1="475.00" x2="181.90" y2="484.00" stroke="#1a1a1a" stroke-width="1.08" />
<line x1="179.10" y1="484.50" x2="184.70" y2="484.50" stroke="#1a1a1a" stroke-width="1.44" />
<path d="M201.50,408.6 L201.50,474.6 L226.50,474.6 L226.50,408.6" stroke="#1a1a1a" stroke-width="0.96" fill="none" />
<line x1="203.00" y1="408.60" x2="203.00" y2="474.60" stroke="#1a1a1a" stroke-width="0.60" />
<line x1="205.60" y1="408.60" x2="205.60" y2="473.80" stroke="#1a1a1a" stroke-width="0.96" />
<line x1="222.40" y1="408.60" x2="222.40" y2="473.80" stroke="#1a1a1a" stroke-width="0.96" />
<line x1="225.00" y1="408.60" x2="225.00" y2="474.60" stroke="#1a1a1a" stroke-width="0.60" />
<path d="M205.60,473.8 Q214.00,475.2 222.40,473.8" stroke="#1a1a1a" stroke-width="0.72" fill="none" />
<line x1="214.00" y1="475.00" x2="214.00" y2="484.00" stroke="#1a1a1a" stroke-width="1.08" />
<line x1="211.20" y1="484.50" x2="216.80" y2="484.50" stroke="#1a1a1a" stroke-width="1.44" />
<path d="M233.60,408.6 L233.60,474.6 L258.60,474.6 L258.60,408.6" stroke="#1a1a1a" stroke-width="0.96" fill="none" />
<line x1="235.10" y1="408.60" x2="235.10" y2="474.60" stroke="#1a1a1a" stroke-width="0.60" />
<line x1="237.70" y1="408.60" x2="237.70" y2="473.80" stroke="#1a1a1a" stroke-width="0.96" />
<line x1="254.50" y1="408.60" x2="254.50" y2="473.80" stroke="#1a1a1a" stroke-width="0.96" />
<line x1="257.10" y1="408.60" x2="257.10" y2="474.60" stroke="#1a1a1a" stroke-width="0.60" />
<path d="M237.70,473.8 Q246.10,475.2 254.50,473.8" stroke="#1a1a1a" stroke-width="0.72" fill="none" />
<line x1="246.10" y1="475.00" x2="246.10" y2="484.00" stroke="#1a1a1a" stroke-width="1.08" />
<line x1="243.30" y1="484.50" x2="248.90" y2="484.50" stroke="#1a1a1a" stroke-width="1.44" />
<path d="M265.70,408.6 L265.70,474.6 L290.70,474.6 L290.70,408.6" stroke="#1a1a1a" stroke-width="0.96" fill="none" />
<line x1="267.20" y1="408.60" x2="267.20" y2="474.60" stroke="#1a1a1a" stroke-width="0.60" />
<line x1="269.80" y1="408.60" x2="269.80" y2="473.80" stroke="#1a1a1a" stroke-width="0.96" />
<line x1="286.60" y1="408.60" x2="286.60" y2="473.80" stroke="#1a1a1a" stroke-width="0.96" />
<line x1="289.20" y1="408.60" x2="289.20" y2="474.60" stroke="#1a1a1a" stroke-width="0.60" />
<path d="M269.80,473.8 Q278.20,475.2 286.60,473.8" stroke="#1a1a1a" stroke-width="0.72" fill="none" />
<line x1="278.20" y1="475.00" x2="278.20" y2="484.00" stroke="#1a1a1a" stroke-width="1.08" />
<line x1="275.40" y1="484.50" x2="281.00" y2="484.50" stroke="#1a1a1a" stroke-width="1.44" />
<path d="M297.80,408.6 L297.80,474.6 L322.80,474.6 L322.80,408.6" stroke="#1a1a1a" stroke-width="0.96" fill="none" />
<line x1="299.30" y1="408.60" x2="299.30" y2="474.60" stroke="#1a1a1a" stroke-width="0.60" />
<line x1="301.90" y1="408.60" x2="301.90" y2="473.80" stroke="#1a1a1a" stroke-width="0.96" />
<line x1="318.70" y1="408.60" x2="318.70" y2="473.80" stroke="#1a1a1a" stroke-width="0.96" />
<line x1="321.30" y1="408.60" x2="321.30" y2="474.60" stroke="#1a1a1a" stroke-width="0.60" />
<path d="M301.90,473.8 Q310.30,475.2 318.70,473.8" stroke="#1a1a1a" stroke-width="0.72" fill="none" />
<line x1="310.30" y1="475.00" x2="310.30" y2="484.00" stroke="#1a1a1a" stroke-width="1.08" />
<line x1="307.50" y1="484.50" x2="313.10" y2="484.50" stroke="#1a1a1a" stroke-width="1.44" />
<path d="M529.80,266.50 L549.20,254.30 L561.30,261.80 L541.60,272.70 Z" stroke="#1a1a1a" stroke-width="1.02" fill="#fff" />
<path d="M529.80,266.50 L541.60,272.70 L541.60,291.20 L529.80,287.30 Z" stroke="#1a1a1a" stroke-width="1.02" fill="#fff" />
<path d="M541.60,272.70 L561.30,261.80 L561.30,283.30 L541.60,291.20 Z" stroke="#1a1a1a" stroke-width="1.02" fill="#fff" />
<path d="M483.30,287.30 L506.70,273.40 L520.10,280.90 L496.40,294.70 Z" stroke="#1a1a1a" stroke-width="1.02" fill="#fff" />
<path d="M483.30,287.30 L496.40,294.70 L496.40,320.20 L483.30,312.40 Z" stroke="#1a1a1a" stroke-width="1.02" fill="#fff" />
<path d="M496.40,294.70 L520.10,280.90 L520.10,307.20 L496.40,320.20 Z" stroke="#1a1a1a" stroke-width="1.02" fill="#fff" />
<path d="M456.20,322.60 L462.00,319.20 L467.00,321.60 L461.20,325.20 Z" stroke="#1a1a1a" stroke-width="0.96" fill="#fff" />
<line x1="456.20" y1="322.60" x2="456.20" y2="323.80" stroke="#1a1a1a" stroke-width="0.72" />
<line x1="461.20" y1="325.20" x2="461.20" y2="326.40" stroke="#1a1a1a" stroke-width="0.72" />
<path d="M463.40,310.80 L471.80,305.40 L479.60,309.60 L471.20,314.40 Z" stroke="#1a1a1a" stroke-width="1.02" fill="#fff" />
<path d="M463.40,310.80 L471.20,314.40 L471.20,334.80 L463.40,325.20 Z" stroke="#1a1a1a" stroke-width="1.02" fill="#fff" />
<path d="M471.20,314.40 L479.60,309.60 L479.60,330.60 L471.20,334.80 Z" stroke="#1a1a1a" stroke-width="1.02" fill="#fff" />
<path d="M463.8,313.5 Q466.5,312.5 466.8,316.5 L466.8,321.5 Q466.3,324.5 464,324.8" stroke="#1a1a1a" stroke-width="0.96" fill="none" />
<path d="M465.0,325.0 Q463.8,331 465.2,336.5 Q466.2,340.5 467.8,343.5" stroke="#1a1a1a" stroke-width="1.20" fill="none" />
<path d="M462.30,346.00 L522.80,376.00 L522.80,392.20 L461.70,359.50 Z" stroke="#1a1a1a" stroke-width="1.08" fill="#fff" />
<line x1="462.00" y1="349.50" x2="522.80" y2="379.50" stroke="#1a1a1a" stroke-width="0.72" />
<line x1="462.00" y1="351.20" x2="522.80" y2="381.20" stroke="#1a1a1a" stroke-width="1.08" />
<line x1="466.80" y1="348.50" x2="466.80" y2="361.60" stroke="#1a1a1a" stroke-width="0.72" />
<line x1="461.90" y1="355.00" x2="466.80" y2="357.20" stroke="#1a1a1a" stroke-width="0.72" />
<line x1="461.90" y1="356.50" x2="466.80" y2="358.70" stroke="#1a1a1a" stroke-width="0.72" />
<path d="M522.80,376.00 L661.40,298.00 L661.40,313.50 L522.80,392.20 Z" stroke="#1a1a1a" stroke-width="1.08" fill="#fff" />
<line x1="522.80" y1="378.40" x2="661.40" y2="300.30" stroke="#222" stroke-width="1.08" />
<line x1="522.80" y1="381.00" x2="661.40" y2="302.78" stroke="#666" stroke-width="0.60" />
<line x1="522.80" y1="383.60" x2="661.40" y2="305.27" stroke="#222" stroke-width="1.08" />
<line x1="522.80" y1="386.40" x2="661.40" y2="307.95" stroke="#666" stroke-width="0.60" />
<line x1="522.80" y1="389.20" x2="661.40" y2="310.63" stroke="#222" stroke-width="1.08" />
<rect x="515.30" y="373.20" width="7.50" height="19.00" stroke="#1a1a1a" stroke-width="0.96" fill="#fff" rx="0" />
<line x1="515.30" y1="382.80" x2="522.80" y2="382.80" stroke="#1a1a1a" stroke-width="0.72" />
<line x1="515.30" y1="385.60" x2="522.80" y2="385.60" stroke="#1a1a1a" stroke-width="0.72" />
<line x1="518.00" y1="374.00" x2="518.00" y2="392.00" stroke="#1a1a1a" stroke-width="0.48" />
<path d="M515.3,392.2 Q519,394 522.8,392.2" stroke="#1a1a1a" stroke-width="0.84" fill="none" />
<line x1="526.60" y1="374.00" x2="526.60" y2="392.00" stroke="#1a1a1a" stroke-width="0.72" />
<line x1="567.00" y1="351.20" x2="567.00" y2="367.00" stroke="#1a1a1a" stroke-width="0.72" />
<line x1="612.00" y1="325.20" x2="612.00" y2="341.00" stroke="#1a1a1a" stroke-width="0.72" />
<path d="M655.00,301.60 L661.40,298.00 L661.40,313.50 L655.00,317.20 Z" stroke="#1a1a1a" stroke-width="0.84" fill="#fff" />
<line x1="658.20" y1="299.80" x2="658.20" y2="315.30" stroke="#1a1a1a" stroke-width="0.60" />
<rect x="655.8" y="306" width="1.8" height="3" stroke="#222" stroke-width="0.45" fill="none"/>
<path d="M462.30,346.00 L600.90,264.10 L661.40,298.00 L522.80,376.00 Z" stroke="#1a1a1a" stroke-width="1.14" fill="none" />
<line x1="465.80" y1="345.50" x2="596.90" y2="267.80" stroke="#1a1a1a" stroke-width="0.72" />
<line x1="465.80" y1="346.70" x2="596.90" y2="269.00" stroke="#111" stroke-width="1.56" />
<line x1="465.80" y1="348.00" x2="596.90" y2="270.30" stroke="#1a1a1a" stroke-width="0.72" />
<line x1="465.80" y1="349.30" x2="596.90" y2="271.60" stroke="#222" stroke-width="1.32" />
<path d="M465.80,346.00 L596.90,268.30 L596.90,269.70 L465.80,347.40 Z" stroke="#1a1a1a" stroke-width="0.00" fill="#333" />
<line x1="466.80" y1="347.80" x2="518.80" y2="374.00" stroke="#222" stroke-width="1.32" />
<line x1="470.30" y1="347.00" x2="519.80" y2="371.80" stroke="#1a1a1a" stroke-width="0.72" />
<line x1="473.30" y1="346.20" x2="520.80" y2="370.00" stroke="#222" stroke-width="1.32" />
<line x1="520.80" y1="369.60" x2="655.40" y2="294.00" stroke="#222" stroke-width="1.08" />
<line x1="520.80" y1="371.40" x2="655.40" y2="295.80" stroke="#666" stroke-width="0.60" />
<line x1="520.80" y1="372.80" x2="655.40" y2="297.20" stroke="#222" stroke-width="1.32" />
<line x1="520.80" y1="374.40" x2="655.40" y2="298.80" stroke="#666" stroke-width="0.60" />
<line x1="520.80" y1="375.80" x2="655.40" y2="300.20" stroke="#222" stroke-width="1.08" />
<path d="M478.50,344.00 L590.50,281.00 L630.00,303.50 L516.50,367.00 Z" stroke="#1a1a1a" stroke-width="0.96" fill="none" />
<path d="M478.88,344.23 L590.89,281.23 L592.08,281.90 L480.02,344.92 Z" stroke="#1a1a1a" stroke-width="0.00" fill="#c8c8c8" />
<line x1="478.88" y1="344.23" x2="590.89" y2="281.23" stroke="#222" stroke-width="1.20" />
<line x1="480.02" y1="344.92" x2="592.08" y2="281.90" stroke="#333" stroke-width="0.84" />
<path d="M488.76,350.21 L601.16,287.07 L602.35,287.75 L489.90,350.90 Z" stroke="#1a1a1a" stroke-width="0.00" fill="#c8c8c8" />
<line x1="488.76" y1="350.21" x2="601.16" y2="287.07" stroke="#222" stroke-width="1.20" />
<line x1="489.90" y1="350.90" x2="602.35" y2="287.75" stroke="#333" stroke-width="0.84" />
<path d="M497.88,355.73 L610.64,292.48 L611.83,293.15 L499.02,356.42 Z" stroke="#1a1a1a" stroke-width="0.00" fill="#c8c8c8" />
<line x1="497.88" y1="355.73" x2="610.64" y2="292.48" stroke="#222" stroke-width="1.20" />
<line x1="499.02" y1="356.42" x2="611.83" y2="293.15" stroke="#333" stroke-width="0.84" />
<path d="M507.00,361.25 L620.12,297.88 L621.31,298.55 L508.14,361.94 Z" stroke="#1a1a1a" stroke-width="0.00" fill="#c8c8c8" />
<line x1="507.00" y1="361.25" x2="620.12" y2="297.88" stroke="#222" stroke-width="1.20" />
<line x1="508.14" y1="361.94" x2="621.31" y2="298.55" stroke="#333" stroke-width="0.84" />
<path d="M515.36,366.31 L628.82,302.82 L630.00,303.50 L516.50,367.00 Z" stroke="#1a1a1a" stroke-width="0.00" fill="#c8c8c8" />
<line x1="515.36" y1="366.31" x2="628.82" y2="302.82" stroke="#222" stroke-width="1.20" />
<line x1="516.50" y1="367.00" x2="630.00" y2="303.50" stroke="#333" stroke-width="0.84" />
<path d="M480.74,342.74 L482.98,341.48 L521.04,364.46 L518.77,365.73 Z" stroke="#1a1a1a" stroke-width="0.00" fill="#c8c8c8" />
<line x1="480.74" y1="342.74" x2="518.77" y2="365.73" stroke="#222" stroke-width="1.20" />
<line x1="482.98" y1="341.48" x2="521.04" y2="364.46" stroke="#333" stroke-width="0.84" />
<path d="M489.70,337.70 L491.94,336.44 L530.12,359.38 L527.85,360.65 Z" stroke="#1a1a1a" stroke-width="0.00" fill="#c8c8c8" />
<line x1="489.70" y1="337.70" x2="527.85" y2="360.65" stroke="#222" stroke-width="1.20" />
<line x1="491.94" y1="336.44" x2="530.12" y2="359.38" stroke="#333" stroke-width="0.84" />
<path d="M500.90,331.40 L503.14,330.14 L541.47,353.03 L539.20,354.30 Z" stroke="#1a1a1a" stroke-width="0.00" fill="#c8c8c8" />
<line x1="500.90" y1="331.40" x2="539.20" y2="354.30" stroke="#222" stroke-width="1.20" />
<line x1="503.14" y1="330.14" x2="541.47" y2="353.03" stroke="#333" stroke-width="0.84" />
<path d="M512.10,325.10 L514.34,323.84 L552.82,346.68 L550.55,347.95 Z" stroke="#1a1a1a" stroke-width="0.00" fill="#c8c8c8" />
<line x1="512.10" y1="325.10" x2="550.55" y2="347.95" stroke="#222" stroke-width="1.20" />
<line x1="514.34" y1="323.84" x2="552.82" y2="346.68" stroke="#333" stroke-width="0.84" />
<path d="M523.30,318.80 L525.54,317.54 L564.17,340.33 L561.90,341.60 Z" stroke="#1a1a1a" stroke-width="0.00" fill="#c8c8c8" />
<line x1="523.30" y1="318.80" x2="561.90" y2="341.60" stroke="#222" stroke-width="1.20" />
<line x1="525.54" y1="317.54" x2="564.17" y2="340.33" stroke="#333" stroke-width="0.84" />
<path d="M534.50,312.50 L536.74,311.24 L575.52,333.98 L573.25,335.25 Z" stroke="#1a1a1a" stroke-width="0.00" fill="#c8c8c8" />
<line x1="534.50" y1="312.50" x2="573.25" y2="335.25" stroke="#222" stroke-width="1.20" />
<line x1="536.74" y1="311.24" x2="575.52" y2="333.98" stroke="#333" stroke-width="0.84" />
<path d="M545.70,306.20 L547.94,304.94 L586.87,327.63 L584.60,328.90 Z" stroke="#1a1a1a" stroke-width="0.00" fill="#c8c8c8" />
<line x1="545.70" y1="306.20" x2="584.60" y2="328.90" stroke="#222" stroke-width="1.20" />
<line x1="547.94" y1="304.94" x2="586.87" y2="327.63" stroke="#333" stroke-width="0.84" />
<path d="M556.90,299.90 L559.14,298.64 L598.22,321.28 L595.95,322.55 Z" stroke="#1a1a1a" stroke-width="0.00" fill="#c8c8c8" />
<line x1="556.90" y1="299.90" x2="595.95" y2="322.55" stroke="#222" stroke-width="1.20" />
<line x1="559.14" y1="298.64" x2="598.22" y2="321.28" stroke="#333" stroke-width="0.84" />
<path d="M568.10,293.60 L570.34,292.34 L609.57,314.93 L607.30,316.20 Z" stroke="#1a1a1a" stroke-width="0.00" fill="#c8c8c8" />
<line x1="568.10" y1="293.60" x2="607.30" y2="316.20" stroke="#222" stroke-width="1.20" />
<line x1="570.34" y1="292.34" x2="609.57" y2="314.93" stroke="#333" stroke-width="0.84" />
<path d="M579.30,287.30 L581.54,286.04 L620.92,308.58 L618.65,309.85 Z" stroke="#1a1a1a" stroke-width="0.00" fill="#c8c8c8" />
<line x1="579.30" y1="287.30" x2="618.65" y2="309.85" stroke="#222" stroke-width="1.20" />
<line x1="581.54" y1="286.04" x2="620.92" y2="308.58" stroke="#333" stroke-width="0.84" />
<path d="M587.70,282.57 L589.94,281.31 L629.43,303.82 L627.16,305.09 Z" stroke="#1a1a1a" stroke-width="0.00" fill="#c8c8c8" />
<line x1="587.70" y1="282.57" x2="627.16" y2="305.09" stroke="#222" stroke-width="1.20" />
<line x1="589.94" y1="281.31" x2="629.43" y2="303.82" stroke="#333" stroke-width="0.84" />
<path d="M483.40,347.40 L487.40,345.10 L491.90,347.90 L487.90,350.20 Z" stroke="#1a1a1a" stroke-width="0.48" fill="#111" />
<path d="M505.10,335.40 L509.10,333.10 L513.60,335.90 L509.60,338.20 Z" stroke="#1a1a1a" stroke-width="0.48" fill="#111" />
<path d="M526.80,323.40 L530.80,321.10 L535.30,323.90 L531.30,326.20 Z" stroke="#1a1a1a" stroke-width="0.48" fill="#111" />
<path d="M548.50,311.40 L552.50,309.10 L557.00,311.90 L553.00,314.20 Z" stroke="#1a1a1a" stroke-width="0.48" fill="#111" />
<path d="M570.20,299.40 L574.20,297.10 L578.70,299.90 L574.70,302.20 Z" stroke="#1a1a1a" stroke-width="0.48" fill="#111" />
<path d="M592.40,279.20 L605.70,270.10 L652.90,296.80 L636.00,306.40 Z" stroke="#1a1a1a" stroke-width="1.08" fill="#fff" />
<line x1="592.40" y1="281.00" x2="636.00" y2="308.20" stroke="#1a1a1a" stroke-width="0.84" />
<path d="M607.00,279.40 L610.30,277.50 L612.50,280.20 L609.20,282.10 Z" stroke="#1a1a1a" stroke-width="0.48" fill="#111" />
<path d="M632.60,294.00 L635.90,292.10 L638.10,294.80 L634.80,296.70 Z" stroke="#1a1a1a" stroke-width="0.48" fill="#111" />
<line x1="605.70" y1="270.10" x2="652.90" y2="296.80" stroke="#1a1a1a" stroke-width="1.08" />
<line x1="603.00" y1="268.20" x2="656.50" y2="297.60" stroke="#1a1a1a" stroke-width="0.72" />
<path d="M537.00,293.50 L601.00,327.50 L601.00,334.50 L537.00,300.50 Z" stroke="#1a1a1a" stroke-width="0.96" fill="#fff" />
<path d="M537.00,293.50 L543.00,288.10 L607.00,322.10 L601.00,327.50 Z" stroke="#1a1a1a" stroke-width="0.96" fill="#fff" />
<path d="M538.80,291.88 L602.80,325.88 L604.30,324.53 L540.30,290.53 Z" stroke="#1a1a1a" stroke-width="0.00" fill="#888" />
<line x1="537.72" y1="292.85" x2="601.72" y2="326.85" stroke="#111" stroke-width="2.16" />
<line x1="538.80" y1="291.88" x2="602.80" y2="325.88" stroke="#1a1a1a" stroke-width="0.84" />
<line x1="540.30" y1="290.53" x2="604.30" y2="324.53" stroke="#1a1a1a" stroke-width="0.84" />
<line x1="541.32" y1="289.61" x2="605.32" y2="323.61" stroke="#111" stroke-width="2.16" />
<line x1="542.52" y1="288.53" x2="606.52" y2="322.53" stroke="#1a1a1a" stroke-width="0.84" />
<line x1="537.00" y1="295.30" x2="601.00" y2="329.30" stroke="#111" stroke-width="2.16" />
<line x1="537.00" y1="297.10" x2="601.00" y2="331.10" stroke="#1a1a1a" stroke-width="0.84" />
<line x1="537.00" y1="298.70" x2="601.00" y2="332.70" stroke="#111" stroke-width="1.92" />
<path d="M536.5,293.0 Q537.0,289.0 541.0,288.5 L545.5,288.0 L566.5,298.5 Q568.0,300.0 567.5,303.0 L567.5,311.0 Q567.0,314.5 563.5,314.0 L541.0,302.5 Q537.0,300.5 536.5,297.0 Z" stroke="#1a1a1a" stroke-width="1.20" fill="#fff" />
<path d="M540.00,293.80 L562.50,305.00 L562.50,309.00 L540.00,297.80 Z" stroke="#1a1a1a" stroke-width="0.00" fill="#777" />
<line x1="540.00" y1="293.80" x2="562.50" y2="305.00" stroke="#111" stroke-width="2.16" />
<line x1="540.00" y1="297.80" x2="562.50" y2="309.00" stroke="#111" stroke-width="2.16" />
<line x1="545.50" y1="288.00" x2="545.50" y2="291.50" stroke="#1a1a1a" stroke-width="0.72" />
<line x1="541.00" y1="290.50" x2="563.00" y2="301.50" stroke="#1a1a1a" stroke-width="0.84" />
<path d="M537.5,291 Q539.5,290.5 540.5,293.5 L540.5,299.5" stroke="#1a1a1a" stroke-width="0.84" fill="none" />
<path d="M559.0,305.0 L564.5,302.0 L565.5,303.0 L565.5,316.5 L560.5,319.0 L559.0,318.0 Z" stroke="#1a1a1a" stroke-width="1.08" fill="#fff" />
<line x1="560.80" y1="305.50" x2="560.80" y2="318.50" stroke="#1a1a1a" stroke-width="0.72" />
<path d="M565.5,303.5 L572.5,299.5 Q576.0,299.5 576.5,303.0 L576.5,306.5 L565.5,312.5" stroke="#1a1a1a" stroke-width="0.96" fill="#fff" />
<line x1="568.00" y1="302.00" x2="568.00" y2="311.00" stroke="#1a1a1a" stroke-width="0.60" />
<rect x="562.00" y="309.00" width="2.00" height="7.00" stroke="#1a1a1a" stroke-width="0.00" fill="#333" rx="0" />
<path d="M596.00,325.50 L602.50,321.50 L608.50,324.50 L608.50,333.00 L602.00,337.00 L596.00,334.00 Z" stroke="#1a1a1a" stroke-width="1.08" fill="#fff" />
<line x1="596.00" y1="325.50" x2="602.00" y2="328.50" stroke="#1a1a1a" stroke-width="0.84" />
<line x1="602.00" y1="328.50" x2="608.50" y2="324.50" stroke="#1a1a1a" stroke-width="0.84" />
<line x1="602.00" y1="328.50" x2="602.00" y2="337.00" stroke="#1a1a1a" stroke-width="0.84" />
<line x1="596.00" y1="330.00" x2="602.00" y2="333.00" stroke="#111" stroke-width="1.44" />
<path d="M532.30,390.30 L547.90,380.10 L595.10,406.90 L579.50,417.10 Z" stroke="#1a1a1a" stroke-width="1.20" fill="#fff" />
<path d="M535.28,390.08 L547.76,381.92 L592.36,407.25 L579.88,415.41 Z" stroke="#1a1a1a" stroke-width="0.72" fill="none" />
<line x1="532.30" y1="390.30" x2="579.50" y2="417.10" stroke="#111" stroke-width="1.44" />
<line x1="579.50" y1="417.10" x2="595.10" y2="406.90" stroke="#111" stroke-width="1.32" />
<path d="M544.48,383.49 L589.32,408.95 L591.81,407.32 L546.97,381.86 Z" stroke="#333" stroke-width="0.84" fill="#d8d8d8" />
<line x1="564.46" y1="395.22" x2="567.27" y2="393.38" stroke="#1a1a1a" stroke-width="0.60" />
<line x1="541.97" y1="383.98" x2="547.90" y2="380.10" stroke="#111" stroke-width="1.56" />
<line x1="590.73" y1="409.76" x2="592.73" y2="411.36" stroke="#1a1a1a" stroke-width="1.32" />
<line x1="592.73" y1="411.36" x2="592.73" y2="416.56" stroke="#1a1a1a" stroke-width="1.32" />
<line x1="589.53" y1="418.36" x2="595.93" y2="414.96" stroke="#1a1a1a" stroke-width="1.80" />
<path d="M555.00,376.90 L570.60,366.70 L617.80,393.50 L602.20,403.70 Z" stroke="#1a1a1a" stroke-width="1.20" fill="#fff" />
<path d="M557.98,376.68 L570.46,368.52 L615.06,393.85 L602.58,402.01 Z" stroke="#1a1a1a" stroke-width="0.72" fill="none" />
<line x1="555.00" y1="376.90" x2="602.20" y2="403.70" stroke="#111" stroke-width="1.44" />
<line x1="602.20" y1="403.70" x2="617.80" y2="393.50" stroke="#111" stroke-width="1.32" />
<path d="M567.18,370.09 L612.02,395.55 L614.51,393.92 L569.67,368.46 Z" stroke="#333" stroke-width="0.84" fill="#d8d8d8" />
<line x1="587.16" y1="381.82" x2="589.97" y2="379.98" stroke="#1a1a1a" stroke-width="0.60" />
<line x1="564.67" y1="370.58" x2="570.60" y2="366.70" stroke="#111" stroke-width="1.56" />
<line x1="613.43" y1="396.36" x2="615.43" y2="397.96" stroke="#1a1a1a" stroke-width="1.32" />
<line x1="615.43" y1="397.96" x2="615.43" y2="403.16" stroke="#1a1a1a" stroke-width="1.32" />
<line x1="612.23" y1="404.96" x2="618.63" y2="401.56" stroke="#1a1a1a" stroke-width="1.80" />
<path d="M577.70,363.50 L593.30,353.30 L640.50,380.10 L624.90,390.30 Z" stroke="#1a1a1a" stroke-width="1.20" fill="#fff" />
<path d="M580.68,363.28 L593.16,355.12 L637.76,380.45 L625.28,388.61 Z" stroke="#1a1a1a" stroke-width="0.72" fill="none" />
<line x1="577.70" y1="363.50" x2="624.90" y2="390.30" stroke="#111" stroke-width="1.44" />
<line x1="624.90" y1="390.30" x2="640.50" y2="380.10" stroke="#111" stroke-width="1.32" />
<path d="M589.88,356.69 L634.72,382.15 L637.21,380.52 L592.37,355.06 Z" stroke="#333" stroke-width="0.84" fill="#d8d8d8" />
<line x1="609.86" y1="368.42" x2="612.67" y2="366.58" stroke="#1a1a1a" stroke-width="0.60" />
<line x1="587.37" y1="357.18" x2="593.30" y2="353.30" stroke="#111" stroke-width="1.56" />
<line x1="636.13" y1="382.96" x2="638.13" y2="384.56" stroke="#1a1a1a" stroke-width="1.32" />
<line x1="638.13" y1="384.56" x2="638.13" y2="389.76" stroke="#1a1a1a" stroke-width="1.32" />
<line x1="634.93" y1="391.56" x2="641.33" y2="388.16" stroke="#1a1a1a" stroke-width="1.80" />
<path d="M600.40,350.10 L616.00,339.90 L663.20,366.70 L647.60,376.90 Z" stroke="#1a1a1a" stroke-width="1.20" fill="#fff" />
<path d="M603.38,349.88 L615.86,341.72 L660.46,367.05 L647.98,375.21 Z" stroke="#1a1a1a" stroke-width="0.72" fill="none" />
<line x1="600.40" y1="350.10" x2="647.60" y2="376.90" stroke="#111" stroke-width="1.44" />
<line x1="647.60" y1="376.90" x2="663.20" y2="366.70" stroke="#111" stroke-width="1.32" />
<path d="M612.58,343.29 L657.42,368.75 L659.91,367.12 L615.07,341.66 Z" stroke="#333" stroke-width="0.84" fill="#d8d8d8" />
<line x1="632.56" y1="355.02" x2="635.37" y2="353.18" stroke="#1a1a1a" stroke-width="0.60" />
<line x1="610.07" y1="343.78" x2="616.00" y2="339.90" stroke="#111" stroke-width="1.56" />
<line x1="658.83" y1="369.56" x2="660.83" y2="371.16" stroke="#1a1a1a" stroke-width="1.32" />
<line x1="660.83" y1="371.16" x2="660.83" y2="376.36" stroke="#1a1a1a" stroke-width="1.32" />
<line x1="657.63" y1="378.16" x2="664.03" y2="374.76" stroke="#1a1a1a" stroke-width="1.80" />
<path d="M623.10,336.70 L638.70,326.50 L685.90,353.30 L670.30,363.50 Z" stroke="#1a1a1a" stroke-width="1.20" fill="#fff" />
<path d="M626.08,336.48 L638.56,328.32 L683.16,353.65 L670.68,361.81 Z" stroke="#1a1a1a" stroke-width="0.72" fill="none" />
<line x1="623.10" y1="336.70" x2="670.30" y2="363.50" stroke="#111" stroke-width="1.44" />
<line x1="670.30" y1="363.50" x2="685.90" y2="353.30" stroke="#111" stroke-width="1.32" />
<path d="M635.28,329.89 L680.12,355.35 L682.61,353.72 L637.77,328.26 Z" stroke="#333" stroke-width="0.84" fill="#d8d8d8" />
<line x1="655.26" y1="341.62" x2="658.07" y2="339.78" stroke="#1a1a1a" stroke-width="0.60" />
<line x1="632.77" y1="330.38" x2="638.70" y2="326.50" stroke="#111" stroke-width="1.56" />
<line x1="681.53" y1="356.16" x2="683.53" y2="357.76" stroke="#1a1a1a" stroke-width="1.32" />
<line x1="683.53" y1="357.76" x2="683.53" y2="362.96" stroke="#1a1a1a" stroke-width="1.32" />
<line x1="680.33" y1="364.76" x2="686.73" y2="361.36" stroke="#1a1a1a" stroke-width="1.80" />
<text x="50.20" y="506.60" font-family="Liberation Serif" font-size="7.8" font-weight="normal" fill="#2a2a2a" textLength="246.00" lengthAdjust="spacing" stroke="#2a2a2a" stroke-width="0.1">Note: The dimensions in the figure are for reference only.</text>
<text x="50.20" y="516.60" font-family="Liberation Serif" font-size="7.8" font-weight="normal" fill="#2a2a2a" textLength="219.50" lengthAdjust="spacing" stroke="#2a2a2a" stroke-width="0.1">The specific layout depends on the actual situation.</text>
</svg>
</body></html>
